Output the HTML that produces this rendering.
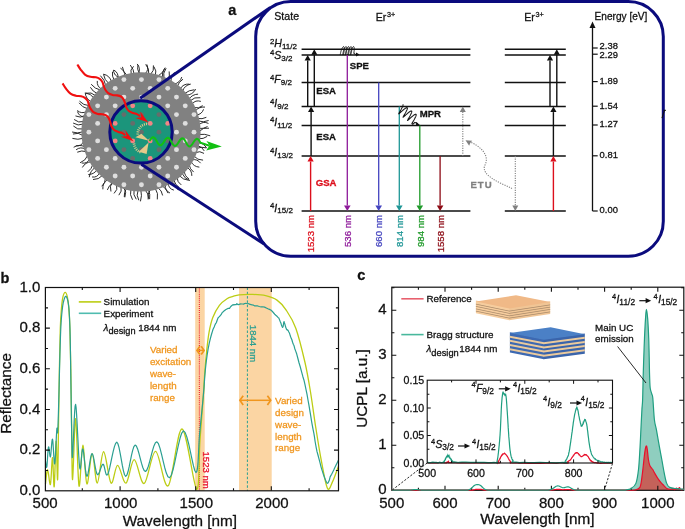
<!DOCTYPE html>
<html><head><meta charset="utf-8"><style>
html,body{margin:0;padding:0;background:#fff;width:685px;height:529px;overflow:hidden}
svg{display:block;will-change:transform;font-family:"Liberation Sans", sans-serif}
</style></head><body>
<svg width="685" height="529" viewBox="0 0 685 529">
<rect width="685" height="529" fill="#fff"/>
<g id="np">
<path d="M199.1,131.49 Q203.07,126.86 209.02,128.19 M199.04,134.47 Q204.8,133.57 210.19,135.8 M198.69,138.75 Q203.35,139.14 207.15,136.42 M198.12,142.52 Q203.92,143.19 206.78,148.27 M197.47,145.57 Q202.15,146.61 204.26,150.91 M196.71,148.39 Q201.32,146.43 206.12,147.87 M195.27,152.66 Q199.87,150.41 204.03,153.4 M193.87,156 Q197.47,160.29 203.07,160.15 M191.98,159.77 Q197.34,158.77 200.58,163.16 M191.03,161.45 Q193.51,166.73 199.34,167.14 M189.09,164.5 Q189.81,169.23 193.67,172.08 M186.96,167.44 Q192.02,170.16 191.83,175.9 M184.38,170.55 Q184.31,175.99 188.94,178.82 M181.95,173.11 Q184.32,178.66 190.02,180.62 M179.24,175.64 Q183.09,179.84 188.76,180.32 M177.04,177.47 Q177.24,182.29 181.28,184.92 M173.79,179.86 Q174.95,184.63 179,187.39 M171.56,181.31 Q176.39,184.62 178.3,190.15 M168.2,183.24 Q168.53,188.73 173.86,190.13 M165.31,184.67 Q164.66,190.51 169.97,193.03 M162.36,185.93 Q166.4,188.6 168.05,193.15 M157.55,187.59 Q162.05,190.24 162.63,195.44 M155.2,188.24 Q158.63,193.37 157.31,199.4 M150.62,189.2 Q147.14,193.77 148.11,199.44 M148.25,189.55 Q150.55,194.12 149.62,199.15 M145.18,189.85 Q148.52,193.65 148.68,198.7 M140.84,190 Q142.28,195.73 140.44,201.34 M138.17,189.93 Q135.8,195.29 138.82,200.31 M134.06,189.58 Q132.78,194.99 136.29,199.29 M130.96,189.13 Q129.31,194.8 132.53,199.76 M126.66,188.2 Q123.74,192.14 124.28,197 M123.62,187.34 Q127.1,191.99 124.85,197.35 M120.92,186.42 Q122.37,191.39 118.84,195.18 M116.57,184.61 Q118.29,189.88 114.02,193.42 M113.35,183 Q108.67,185.03 107.35,189.95 M111.88,182.18 Q109.54,186.64 110.95,191.47 M107.79,179.58 Q102.29,182.91 102.86,189.33 M105.42,177.83 Q105.59,182.91 101.78,186.26 M102.5,175.42 Q98.74,179.73 93.03,179.53 M99.67,172.73 Q97.46,177.76 92.02,177 M97.08,169.93 Q93.8,174.36 88.31,174.6 M95.07,167.48 Q90.08,171.1 89.24,177.21 M92.87,164.44 Q91.6,169.02 87.78,171.83 M91.17,161.78 Q85.25,162.24 82.36,167.44 M89.72,159.21 Q87.04,163.92 81.69,163.04 M87.8,155.26 Q85.6,160.71 80.1,162.76 M86.38,151.69 Q81.71,150.02 77.26,152.19 M85.53,149.18 Q80.6,146.33 76.07,149.8 M84.84,146.79 Q79.11,143.88 73.66,147.28 M83.7,141.51 Q81.32,146.5 75.83,145.79 M83.25,138.26 Q77.86,140.17 72.42,138.4 M83.01,135.47 Q78.38,131.92 72.94,134.04 M82.9,131.83 Q77.51,133.9 72.07,131.99 M82.98,128.91 Q77.3,130.33 73.39,125.98 M83.45,123.95 Q78.05,126.38 73.15,123.06 M83.83,121.54 Q78.37,123.34 74.11,119.47 M84.8,117.15 Q79.19,116.85 77.44,111.5 M85.29,115.42 Q80.53,118.52 75.47,115.94 M86.62,111.45 Q81.6,114.26 77.26,110.5 M87.69,108.79 Q82.24,107.47 79.07,102.84 M89.17,105.65 Q83.33,105.44 79.45,101.08 M91.26,101.87 Q85.79,98.9 85.18,92.71 M93.85,97.96 Q90.75,93.62 85.46,92.96 M95.58,95.66 Q91.34,91.63 85.72,93.24 M97.33,93.57 Q92.7,91.7 90.38,87.27 M100.61,90.14 Q94.81,88.91 91.17,84.24 M101.68,89.13 Q96.71,86.51 97.28,80.92 M105.81,85.67 Q104.72,79.82 100.45,75.68 M108.8,83.54 Q104.37,79.98 103.5,74.36 M111.54,81.82 Q109.78,75.53 103.39,74.16 M114.28,80.31 Q111.78,76.36 112.48,71.75 M117.93,78.58 Q118.88,72.83 113.79,70.01 M119.89,77.77 Q114.06,76.12 113.36,70.09 M124.76,76.12 Q125.02,70.83 120.44,68.17 M127.17,75.47 Q123,72.15 122.41,66.86 M131.22,74.63 Q129.54,69.68 133.57,66.34 M134.11,74.21 Q133.77,68.97 130.27,65.06 M138.23,73.87 Q141.11,68.53 137.15,63.94 M140.55,73.8 Q136.3,70.19 138.16,64.93 M144.99,73.94 Q149.31,69.83 146.83,64.4 M148.78,74.32 Q149.49,68.67 145.69,64.42 M150.45,74.57 Q154.5,70.81 153.42,65.4 M155.34,75.6 Q156.98,70.75 153.9,66.66 M157.76,76.27 Q162.98,73.23 165.19,67.6 M162.61,77.97 Q161.48,72.84 164.6,68.61 M163.96,78.53 Q162.58,72.89 166.11,68.29 M166.98,79.93 Q170.66,76.35 169.16,71.44 M170.85,82.05 Q170.17,76.25 174.5,72.33 M174.06,84.12 Q179.97,82.83 181.79,77.06 M177.23,86.48 Q178.88,81.83 183.03,79.14 M180.11,88.93 Q183.18,83.59 189.32,84.14 M182.5,91.23 Q184.57,85.27 190.77,84.07 M184.62,93.52 Q188.94,90.06 194.46,89.72 M186.07,95.24 Q192.58,94.91 195.71,89.2 M188.89,99.01 Q192.32,94.39 198.07,94.15 M190.11,100.86 Q194.43,96.6 200.39,97.73 M191.97,104.01 Q195.5,99.64 200.85,101.39 M193.73,107.49 Q198.73,109.01 202.73,105.64 M195.23,111.04 Q199.08,106.52 205,107.07 M196.57,114.93 Q201.81,114.32 203.54,109.33 M197.52,118.43 Q202.13,119.49 206.35,117.32 M198.05,120.9 Q203.41,122.79 208.62,120.52 M198.68,124.93 Q203.05,120.74 208.47,123.44 M199,128.51 Q203.61,129.01 207.53,126.53" fill="none" stroke="#222" stroke-width="0.95"/>
<circle cx="141.0" cy="131.9" r="59.6" fill="#818181"/>
<g fill="#dedede"><circle cx="88.88" cy="114.62" r="2.45"/><circle cx="88.88" cy="132.14" r="2.45"/><circle cx="88.88" cy="149.66" r="2.45"/><circle cx="97.64" cy="105.86" r="2.45"/><circle cx="97.64" cy="123.38" r="2.45"/><circle cx="97.64" cy="140.9" r="2.45"/><circle cx="97.64" cy="158.42" r="2.45"/><circle cx="106.4" cy="97.1" r="2.45"/><circle cx="106.4" cy="114.62" r="2.45"/><circle cx="106.4" cy="149.66" r="2.45"/><circle cx="106.4" cy="167.18" r="2.45"/><circle cx="115.16" cy="88.34" r="2.45"/><circle cx="115.16" cy="105.86" r="2.45"/><circle cx="115.16" cy="158.42" r="2.45"/><circle cx="115.16" cy="175.94" r="2.45"/><circle cx="123.92" cy="79.58" r="2.45"/><circle cx="123.92" cy="97.1" r="2.45"/><circle cx="123.92" cy="167.18" r="2.45"/><circle cx="123.92" cy="184.7" r="2.45"/><circle cx="132.68" cy="88.34" r="2.45"/><circle cx="132.68" cy="175.94" r="2.45"/><circle cx="141.44" cy="79.58" r="2.45"/><circle cx="141.44" cy="97.1" r="2.45"/><circle cx="141.44" cy="167.18" r="2.45"/><circle cx="141.44" cy="184.7" r="2.45"/><circle cx="150.2" cy="88.34" r="2.45"/><circle cx="150.2" cy="175.94" r="2.45"/><circle cx="158.96" cy="79.58" r="2.45"/><circle cx="158.96" cy="97.1" r="2.45"/><circle cx="158.96" cy="167.18" r="2.45"/><circle cx="158.96" cy="184.7" r="2.45"/><circle cx="167.72" cy="88.34" r="2.45"/><circle cx="167.72" cy="105.86" r="2.45"/><circle cx="167.72" cy="158.42" r="2.45"/><circle cx="167.72" cy="175.94" r="2.45"/><circle cx="176.48" cy="97.1" r="2.45"/><circle cx="176.48" cy="114.62" r="2.45"/><circle cx="176.48" cy="132.14" r="2.45"/><circle cx="176.48" cy="149.66" r="2.45"/><circle cx="176.48" cy="167.18" r="2.45"/><circle cx="185.24" cy="105.86" r="2.45"/><circle cx="185.24" cy="123.38" r="2.45"/><circle cx="185.24" cy="140.9" r="2.45"/><circle cx="185.24" cy="158.42" r="2.45"/><circle cx="194" cy="114.62" r="2.45"/><circle cx="194" cy="132.14" r="2.45"/><circle cx="194" cy="149.66" r="2.45"/></g>
<circle cx="141.0" cy="131.9" r="31.2" fill="#1b957b"/>
<g fill="#f28585"><circle cx="115.16" cy="123.38" r="2.45"/><circle cx="115.16" cy="140.9" r="2.45"/><circle cx="132.68" cy="105.86" r="2.45"/><circle cx="132.68" cy="140.9" r="2.45"/><circle cx="150.2" cy="105.86" r="2.45"/><circle cx="150.2" cy="123.38" r="2.45"/><circle cx="150.2" cy="140.9" r="2.45"/><circle cx="150.2" cy="158.42" r="2.45"/><circle cx="167.72" cy="123.38" r="2.45"/></g>
<g fill="#666d6b"><circle cx="123.92" cy="114.62" r="2.45"/><circle cx="123.92" cy="132.14" r="2.45"/><circle cx="123.92" cy="149.66" r="2.45"/><circle cx="132.68" cy="123.38" r="2.45"/><circle cx="132.68" cy="158.42" r="2.45"/><circle cx="141.44" cy="114.62" r="2.45"/><circle cx="141.44" cy="132.14" r="2.45"/><circle cx="141.44" cy="149.66" r="2.45"/><circle cx="158.96" cy="114.62" r="2.45"/><circle cx="158.96" cy="132.14" r="2.45"/><circle cx="158.96" cy="149.66" r="2.45"/><circle cx="167.72" cy="140.9" r="2.45"/></g>
<g stroke="#e6c98a" stroke-width="2.6" fill="none" stroke-dasharray="1.0 1.1">
<path d="M147.0,123.9 C142,124.5 137.8,127.5 137.7,134.5"/>
<path d="M134.0,143.5 C134.5,148 137.5,151.5 141.5,152.6"/>
</g>
<g fill="#e6c98a">
<path d="M135.4,137.2 L141.4,133.8 L149.0,140.8 Z"/>
<path d="M138.8,151.8 L146.6,154.0 L148.6,142.6 Z"/>
</g>
<circle cx="141.0" cy="131.9" r="31.2" fill="none" stroke="#0b0b7d" stroke-width="3"/>
<path d="M77.4,64.5C77.97,65.38 79.48,68.08 80.8,69.8C82.12,71.52 83.67,73.63 85.3,74.8C86.93,75.97 88.83,76.38 90.6,76.8C92.37,77.22 94.38,76.95 95.9,77.3C97.42,77.65 98.62,78.13 99.7,78.9C100.78,79.67 101.75,80.77 102.4,81.9C103.05,83.03 103.13,84.43 103.6,85.7C104.07,86.97 104.43,88.25 105.2,89.5C105.97,90.75 106.97,92.28 108.2,93.2C109.43,94.12 111.12,94.63 112.6,95C114.08,95.37 115.72,95.15 117.1,95.4C118.48,95.65 119.88,95.93 120.9,96.5C121.92,97.07 122.53,97.78 123.2,98.8C123.87,99.82 124.37,101.13 124.9,102.6C125.43,104.07 125.67,106.15 126.4,107.6C127.13,109.05 128.18,110.4 129.3,111.3C130.42,112.2 131.83,112.53 133.1,113C134.37,113.47 135.75,113.57 136.9,114.1C138.05,114.63 139.48,115.85 140,116.2" fill="none" stroke="#f01010" stroke-width="2.1"/>
<path d="M148.3,122.4 L135.47,117.88 L141.23,117.17 L140.23,111.45 Z" fill="#f01010"/>
<path d="M62.6,83.4C63.17,84.28 64.68,86.98 66,88.7C67.32,90.42 68.87,92.53 70.5,93.7C72.13,94.87 74.03,95.28 75.8,95.7C77.57,96.12 79.58,95.85 81.1,96.2C82.62,96.55 83.82,97.03 84.9,97.8C85.98,98.57 86.95,99.67 87.6,100.8C88.25,101.93 88.33,103.33 88.8,104.6C89.27,105.87 89.63,107.15 90.4,108.4C91.17,109.65 92.17,111.18 93.4,112.1C94.63,113.02 96.32,113.53 97.8,113.9C99.28,114.27 100.92,114.05 102.3,114.3C103.68,114.55 105.08,114.83 106.1,115.4C107.12,115.97 107.73,116.68 108.4,117.7C109.07,118.72 109.57,120.03 110.1,121.5C110.63,122.97 110.87,125.05 111.6,126.5C112.33,127.95 113.38,129.3 114.5,130.2C115.62,131.1 117.03,131.43 118.3,131.9C119.57,132.37 120.95,132.47 122.1,133C123.25,133.53 124.68,134.75 125.2,135.1" fill="none" stroke="#f01010" stroke-width="2.1"/>
<path d="M133.5,141.3 L120.67,136.78 L126.43,136.07 L125.43,130.35 Z" fill="#f01010"/>
<path d="M149.5,141 L150.18,139.97 L150.85,139.01 L151.52,138.21 L152.18,137.62 L152.83,137.3 L153.47,137.26 L154.1,137.51 L154.72,138.03 L155.33,138.79 L155.93,139.73 L156.53,140.79 L157.13,141.88 L157.73,142.92 L158.33,143.85 L158.94,144.59 L159.56,145.08 L160.19,145.3 L160.83,145.22 L161.49,144.86 L162.15,144.25 L162.82,143.43 L163.49,142.46 L164.17,141.42 L164.84,140.4 L165.52,139.46 L166.18,138.68 L166.84,138.12 L167.49,137.82 L168.13,137.81 L168.76,138.1 L169.38,138.65 L169.99,139.43 L170.59,140.39 L171.19,141.46 L171.79,142.55 L172.39,143.58 L172.99,144.49 L173.6,145.2 L174.22,145.66 L174.85,145.85 L175.5,145.74 L176.15,145.35 L176.81,144.71 L177.48,143.87 L178.16,142.89 L178.83,141.85 L179.51,140.83 L180.18,139.9 L180.85,139.14 L181.51,138.61 L182.16,138.35 L182.79,138.38 L183.42,138.69 L184.04,139.27 L184.65,140.08 L185.25,141.05 L185.85,142.12 L186.44,143.21 L187.04,144.24 L187.65,145.12 L188.26,145.81 L188.88,146.24 L189.52,146.39 L190.16,146.25 L190.81,145.83 L191.48,145.17 L192.15,144.3 L192.82,143.32 L193.5,142.27 L194.18,141.26 L194.85,140.35 L195.52,139.62 L196.17,139.11 L196.82,138.88 L197.46,138.94 L198.08,139.29 L198.7,139.9 L199.3,140.73 L199.91,141.72 L200.5,142.79 L203.5,143.6 L206.5,144.8 L209.5,145.7" fill="none" stroke="#12c012" stroke-width="2"/>
<path d="M221.8,146.5 L206.4,141.0 L209.6,145.6 L206.2,150.4 Z" fill="#12c012"/>
</g>
<g stroke="#0b0b7d" stroke-width="3" fill="none" stroke-linecap="butt">
<path d="M140.2,98.2 L270.35,7.42"/>
<path d="M141.3,164.3 L264.13,243.98"/>
<rect x="255.7" y="1.6" width="407.6" height="254.6" rx="35" ry="35"/>
</g>
<path d="M662.0,118.2 L664.3,110.8 M663.6,110.4 L665.8,110.4" stroke="#111" stroke-width="1.1"/>
<text x="228.2" y="14.6" font-size="14.5" text-anchor="start" font-weight="bold" fill="#111" font-style="normal"  stroke="#111" stroke-width="0.28">a</text>
<text x="274.3" y="20.2" font-size="10.6" text-anchor="start" font-weight="normal" fill="#111" font-style="normal"  stroke="#111" stroke-width="0.28">State</text>
<text x="375.8" y="20.9" font-size="10.6" text-anchor="start" font-weight="normal" fill="#111" font-style="normal"  stroke="#111" stroke-width="0.28">Er<tspan font-size="7.2" dy="-4" dx="0.5">3+</tspan></text>
<text x="524.3" y="20.9" font-size="10.6" text-anchor="start" font-weight="normal" fill="#111" font-style="normal"  stroke="#111" stroke-width="0.28">Er<tspan font-size="7.2" dy="-4" dx="0.5">3+</tspan></text>
<text x="594.6" y="19.8" font-size="10.1" text-anchor="start" font-weight="normal" fill="#111" font-style="normal"  stroke="#111" stroke-width="0.28">Energy [eV]</text>
<g stroke="#111" stroke-width="1.5">
<path d="M301.6,49.2 H470.4 M504.8,49.2 H565.8"/>
<path d="M301.6,54.9 H470.4 M504.8,54.9 H565.8"/>
<path d="M301.6,82.5 H470.4 M504.8,82.5 H565.8"/>
<path d="M301.6,106.6 H470.4 M504.8,106.6 H565.8"/>
<path d="M301.6,125.4 H470.4 M504.8,125.4 H565.8"/>
<path d="M301.6,156.1 H470.4 M504.8,156.1 H565.8"/>
<path d="M301.6,211 H470.4 M504.8,211 H565.8"/>
</g>
<text x="270" y="47.4" font-size="10.5" fill="#111" stroke="#111" stroke-width="0.28"><tspan font-size="7.8" dy="-3.4">2</tspan><tspan font-style="italic" dy="3.4">H</tspan><tspan font-size="8" dy="1.7">11/2</tspan></text>
<text x="270" y="58.8" font-size="10.5" fill="#111" stroke="#111" stroke-width="0.28"><tspan font-size="7.8" dy="-3.4">4</tspan><tspan font-style="italic" dy="3.4">S</tspan><tspan font-size="8" dy="1.7">3/2</tspan></text>
<text x="270" y="83.3" font-size="10.5" fill="#111" stroke="#111" stroke-width="0.28"><tspan font-size="7.8" dy="-3.4">4</tspan><tspan font-style="italic" dy="3.4">F</tspan><tspan font-size="8" dy="1.7">9/2</tspan></text>
<text x="270" y="106.9" font-size="10.5" fill="#111" stroke="#111" stroke-width="0.28"><tspan font-size="7.8" dy="-3.4">4</tspan><tspan font-style="italic" dy="3.4">I</tspan><tspan font-size="8" dy="1.7">9/2</tspan></text>
<text x="270" y="125.8" font-size="10.5" fill="#111" stroke="#111" stroke-width="0.28"><tspan font-size="7.8" dy="-3.4">4</tspan><tspan font-style="italic" dy="3.4">I</tspan><tspan font-size="8" dy="1.7">11/2</tspan></text>
<text x="270" y="156.4" font-size="10.5" fill="#111" stroke="#111" stroke-width="0.28"><tspan font-size="7.8" dy="-3.4">4</tspan><tspan font-style="italic" dy="3.4">I</tspan><tspan font-size="8" dy="1.7">13/2</tspan></text>
<text x="270" y="211.5" font-size="10.5" fill="#111" stroke="#111" stroke-width="0.28"><tspan font-size="7.8" dy="-3.4">4</tspan><tspan font-style="italic" dy="3.4">I</tspan><tspan font-size="8" dy="1.7">15/2</tspan></text>
<path d="M307.7,106.6 V60.4" stroke="#111" stroke-width="1.4"/><path d="M307.7,54.9 L304.6,60.4 L310.8,60.4 Z" fill="#111"/>
<path d="M314.3,106.6 V54.7" stroke="#111" stroke-width="1.4"/><path d="M314.3,49.2 L311.2,54.7 L317.4,54.7 Z" fill="#111"/>
<path d="M311.1,156.1 V112.1" stroke="#111" stroke-width="1.4"/><path d="M311.1,106.6 L308,112.1 L314.2,112.1 Z" fill="#111"/>
<path d="M310.6,211 V161.6" stroke="#dc0f1c" stroke-width="1.4"/><path d="M310.6,156.1 L307.5,161.6 L313.7,161.6 Z" fill="#dc0f1c"/>
<text x="316.3" y="140.2" font-size="9.6" text-anchor="start" font-weight="bold" fill="#111" font-style="normal"  stroke="#111" stroke-width="0.28">ESA</text>
<text x="316.3" y="93.8" font-size="9.6" text-anchor="start" font-weight="bold" fill="#111" font-style="normal"  stroke="#111" stroke-width="0.28">ESA</text>
<text x="315.7" y="185.6" font-size="9.6" text-anchor="start" font-weight="bold" fill="#dc0f1c" font-style="normal"  stroke="#dc0f1c" stroke-width="0.28">GSA</text>
<path d="M347.3,54.9 V205.4" stroke="#8e1a9a" stroke-width="1.3"/><path d="M347.3,211 L344,205.4 L350.6,205.4 Z" fill="#8e1a9a"/>
<text transform="translate(347.6,215) rotate(-90)" font-size="9.6" text-anchor="end" fill="#8e1a9a" dy="3.4" stroke="#8e1a9a" stroke-width="0.28">536 nm</text>
<path d="M378.7,82.5 V205.4" stroke="#4444bf" stroke-width="1.3"/><path d="M378.7,211 L375.4,205.4 L382,205.4 Z" fill="#4444bf"/>
<text transform="translate(379,215) rotate(-90)" font-size="9.6" text-anchor="end" fill="#4444bf" dy="3.4" stroke="#4444bf" stroke-width="0.28">660 nm</text>
<path d="M399.3,106.6 V205.4" stroke="#1e9696" stroke-width="1.3"/><path d="M399.3,211 L396,205.4 L402.6,205.4 Z" fill="#1e9696"/>
<text transform="translate(399.6,215) rotate(-90)" font-size="9.6" text-anchor="end" fill="#1e9696" dy="3.4" stroke="#1e9696" stroke-width="0.28">814 nm</text>
<path d="M419.8,125.4 V205.4" stroke="#1f9a2a" stroke-width="1.3"/><path d="M419.8,211 L416.5,205.4 L423.1,205.4 Z" fill="#1f9a2a"/>
<text transform="translate(420.1,215) rotate(-90)" font-size="9.6" text-anchor="end" fill="#1f9a2a" dy="3.4" stroke="#1f9a2a" stroke-width="0.28">984 nm</text>
<path d="M440.1,156.1 V205.4" stroke="#8c0a14" stroke-width="1.3"/><path d="M440.1,211 L436.8,205.4 L443.4,205.4 Z" fill="#8c0a14"/>
<text transform="translate(440.4,215) rotate(-90)" font-size="9.6" text-anchor="end" fill="#8c0a14" dy="3.4" stroke="#8c0a14" stroke-width="0.28">1558 nm</text>
<text transform="translate(310.9,215) rotate(-90)" font-size="9.6" text-anchor="end" fill="#dc0f1c" dy="3.4" stroke="#dc0f1c" stroke-width="0.28">1523 nm</text>
<text x="349.8" y="68.9" font-size="9.6" text-anchor="start" font-weight="bold" fill="#111" font-style="normal"  stroke="#111" stroke-width="0.28">SPE</text>
<text x="419.7" y="116.5" font-size="9.6" text-anchor="start" font-weight="bold" fill="#111" font-style="normal"  stroke="#111" stroke-width="0.28">MPR</text>
<path d="M340.48,55 L340.44,54.99 L340.41,54.95 L340.39,54.89 L340.37,54.81 L340.36,54.7 L340.35,54.57 L340.35,54.42 L340.36,54.24 L340.38,54.05 L340.41,53.84 L340.44,53.61 L340.48,53.36 L340.52,53.1 L340.58,52.83 L340.64,52.54 L340.7,52.25 L340.78,51.94 L340.86,51.63 L340.95,51.32 L341.04,51 L341.14,50.68 L341.24,50.36 L341.35,50.04 L341.46,49.73 L341.58,49.42 L341.7,49.13 L341.82,48.84 L341.94,48.56 L342.07,48.3 L342.19,48.05 L342.32,47.81 L342.45,47.6 L342.58,47.4 L342.7,47.22 L342.82,47.07 L342.95,46.93 L343.06,46.82 L343.18,46.73 L343.29,46.66 L343.4,46.62 L343.5,46.6 L343.6,46.61 L343.69,46.64 L343.78,46.69 L343.86,46.77 L343.93,46.87 L344,47 L344.06,47.15 L344.11,47.31 L344.15,47.5 L344.19,47.71 L344.22,47.93 L344.25,48.18 L344.26,48.43 L344.27,48.7 L344.27,48.99 L344.27,49.28 L344.26,49.58 L344.24,49.89 L344.21,50.21 L344.18,50.53 L344.14,50.85 L344.1,51.17 L344.06,51.48 L344.01,51.8 L343.95,52.1 L343.89,52.4 L343.83,52.69 L343.77,52.97 L343.71,53.24 L343.64,53.49 L343.57,53.73 L343.51,53.95 L343.44,54.15 L343.38,54.34 L343.31,54.5 L343.25,54.64 L343.19,54.76 L343.14,54.85 L343.08,54.93 L343.04,54.97 L342.99,55 L342.96,55 L342.92,54.97 L342.9,54.92 L342.88,54.85 L342.86,54.75 L342.85,54.63 L342.85,54.49 L342.86,54.33 L342.87,54.14 L342.89,53.94 L342.92,53.72 L342.96,53.48 L343,53.23 L343.05,52.96 L343.11,52.68 L343.17,52.39 L343.24,52.09 L343.32,51.78 L343.41,51.47 L343.5,51.15 L343.59,50.83 L343.69,50.51 L343.8,50.19 L343.91,49.88 L344.02,49.57 L344.14,49.27 L344.26,48.97 L344.38,48.69 L344.51,48.42 L344.63,48.16 L344.76,47.92 L344.89,47.7 L345.02,47.49 L345.14,47.3 L345.27,47.14 L345.39,46.99 L345.51,46.87 L345.63,46.77 L345.74,46.69 L345.85,46.64 L345.95,46.61 L346.05,46.6 L346.15,46.62 L346.24,46.66 L346.32,46.73 L346.4,46.82 L346.47,46.94 L346.53,47.07 L346.59,47.23 L346.63,47.41 L346.68,47.61 L346.71,47.83 L346.74,48.06 L346.76,48.31 L346.77,48.57 L346.77,48.85 L346.77,49.14 L346.76,49.44 L346.75,49.75 L346.72,50.06 L346.7,50.38 L346.66,50.69 L346.62,51.01 L346.58,51.33 L346.53,51.65 L346.48,51.96 L346.42,52.26 L346.36,52.56 L346.3,52.84 L346.24,53.12 L346.17,53.38 L346.11,53.62 L346.04,53.85 L345.97,54.06 L345.91,54.25 L345.84,54.43 L345.78,54.58 L345.72,54.71 L345.66,54.81 L345.61,54.89 L345.56,54.95 L345.51,54.99 L345.47,55 L345.44,54.99 L345.41,54.95 L345.38,54.89 L345.37,54.8 L345.36,54.69 L345.35,54.56 L345.35,54.41 L345.37,54.23 L345.38,54.04 L345.41,53.83 L345.44,53.6 L345.48,53.35 L345.53,53.09 L345.58,52.81 L345.64,52.53 L345.71,52.23 L345.78,51.93 L345.86,51.62 L345.95,51.3 L346.04,50.98 L346.14,50.66 L346.25,50.34 L346.36,50.03 L346.47,49.71 L346.58,49.41 L346.7,49.11 L346.82,48.82 L346.95,48.55 L347.07,48.28 L347.2,48.03 L347.33,47.8 L347.46,47.59 L347.58,47.39 L347.71,47.21 L347.83,47.06 L347.95,46.92 L348.07,46.81 L348.19,46.72 L348.3,46.66 L348.4,46.62 L348.51,46.6 L348.6,46.61 L348.7,46.64 L348.78,46.7 L348.86,46.78 L348.93,46.88 L349,47.01 L349.06,47.15 L349.11,47.32 L349.16,47.51 L349.19,47.72 L349.22,47.95 L349.25,48.19 L349.26,48.45 L349.27,48.72 L349.27,49 L349.27,49.3 L349.25,49.6 L349.24,49.91 L349.21,50.22 L349.18,50.54 L349.14,50.86 L349.1,51.18 L349.05,51.5 L349,51.81 L348.95,52.12 L348.89,52.42 L348.83,52.71 L348.77,52.99 L348.7,53.26 L348.64,53.51 L348.57,53.74 L348.5,53.96 L348.44,54.16 L348.37,54.35 L348.31,54.51 L348.25,54.65 L348.19,54.76 L348.13,54.86 L348.08,54.93 L348.03,54.98 L347.99,55 L347.95,55 L347.92,54.97 L347.89,54.92 L347.87,54.84 L347.86,54.75 L347.85,54.63 L347.85,54.48 L347.86,54.32 L347.87,54.13 L347.89,53.93 L347.92,53.71 L347.96,53.47 L348,53.22 L348.05,52.95 L348.11,52.67 L348.18,52.37 L348.25,52.07 L348.33,51.76 L348.41,51.45 L348.5,51.13 L348.6,50.81 L348.7,50.49 L348.8,50.18 L348.91,49.86 L349.03,49.55 L349.15,49.25 L349.27,48.96 L349.39,48.68 L349.51,48.41 L349.64,48.15 L349.77,47.91 L349.9,47.69 L350.02,47.48 L350.15,47.3 L350.27,47.13 L350.39,46.98 L350.51,46.86 L350.63,46.76 L350.74,46.69 L350.85,46.63 L350.96,46.61 L351.06,46.6 L351.15,46.62 L351.24,46.67 L351.32,46.74 L351.4,46.83 L351.47,46.94 L351.53,47.08 L351.59,47.24 L351.64,47.42 L351.68,47.62 L351.71,47.84 L351.74,48.07 L351.76,48.32 L351.77,48.59 L351.77,48.87 L351.77,49.16 L351.76,49.46 L351.75,49.76 L351.72,50.07 L351.69,50.39 L351.66,50.71 L351.62,51.03 L351.58,51.35 L351.53,51.66 L351.48,51.97 L351.42,52.28 L351.36,52.57 L351.3,52.86 L351.23,53.13 L351.17,53.39 L351.1,53.63 L351.04,53.86 L350.97,54.07 L350.9,54.26 L350.84,54.43 L350.78,54.58 L350.72,54.71 L350.66,54.82 L350.61,54.9 L350.56,54.96 L350.51,54.99 L350.47,55 L350.44,54.99 L350.41,54.95 L350.38,54.88 L350.37,54.8 L350.36,54.69 L350.35,54.55 L350.36,54.4 L350.37,54.22 L350.38,54.03 L350.41,53.82 L350.44,53.58 L350.48,53.34 L350.53,53.08 L350.58,52.8 L350.64,52.51 L350.71,52.22 L350.79,51.91 L350.87,51.6 L350.96,51.28 L351.05,50.96 L351.15,50.64 L351.25,50.33 L351.36,50.01 L351.47,49.7 L351.59,49.39 L351.71,49.1 L351.83,48.81 L351.96,48.53 L352.08,48.27 L352.21,48.02 L352.33,47.79 L352.46,47.58 L352.59,47.38 L352.71,47.21 L352.84,47.05 L352.96,46.92 L353.08,46.81 L353.19,46.72 L353.3,46.66 L353.41,46.62 L353.51,46.6 L353.61,46.61 L353.7,46.64 L353.79,46.7 L353.86,46.78 L353.94,46.89 L354,47.01 L354.06,47.16 L354.11,47.33 L354.16,47.52 L354.2,47.73 L354.23,47.96 L354.25,48.2 L354.26,48.46 L354.27,48.73 L354.27,49.02 L354.27,49.31 L354.25,49.62 L354.23,49.93 L354.21,50.24 L354.18,50.56 L354.14,50.88 L354.1,51.2 L354.05,51.52 L354,51.83 L353.95,52.14 L353.89,52.43 L353.83,52.72 L353.76,53 L353.7,53.27 L354.5,53.2 L355.5,55 L356.5,53.8 L357.2,54.4" fill="none" stroke="#111" stroke-width="0.95" stroke-linejoin="round"/>
<path d="M359.6,54.5 L356.0,52.6 L356.0,56.4 Z" fill="#111"/>
<path d="M402.8,104.42 L402.85,104.48 L402.9,104.54 L402.93,104.61 L402.95,104.7 L402.97,104.8 L402.97,104.91 L402.97,105.03 L402.96,105.15 L402.93,105.3 L402.9,105.45 L402.86,105.6 L402.82,105.77 L402.76,105.95 L402.69,106.14 L402.62,106.33 L402.54,106.53 L402.46,106.74 L402.36,106.95 L402.27,107.17 L402.16,107.4 L402.05,107.63 L401.94,107.86 L401.82,108.1 L401.7,108.34 L401.57,108.58 L401.44,108.82 L401.31,109.07 L401.18,109.31 L401.04,109.55 L400.91,109.8 L400.77,110.04 L400.64,110.27 L400.5,110.51 L400.37,110.74 L400.24,110.97 L400.11,111.19 L399.98,111.4 L399.86,111.62 L399.74,111.82 L399.62,112.02 L399.51,112.2 L399.41,112.38 L399.31,112.56 L399.21,112.72 L399.13,112.87 L399.05,113.02 L398.97,113.15 L398.91,113.27 L398.85,113.39 L398.8,113.49 L398.76,113.58 L398.72,113.66 L398.7,113.72 L398.69,113.78 L398.68,113.82 L398.68,113.85 L398.7,113.87 L398.72,113.88 L398.75,113.88 L398.79,113.86 L398.85,113.84 L398.91,113.8 L398.98,113.75 L399.06,113.69 L399.15,113.62 L399.24,113.54 L399.35,113.45 L399.47,113.35 L399.59,113.24 L399.72,113.12 L399.86,112.99 L400.01,112.86 L400.17,112.71 L400.33,112.56 L400.5,112.41 L400.67,112.25 L400.85,112.08 L401.04,111.91 L401.23,111.73 L401.42,111.55 L401.62,111.37 L401.83,111.19 L402.03,111 L402.24,110.82 L402.45,110.63 L402.66,110.45 L402.87,110.26 L403.09,110.08 L403.3,109.9 L403.51,109.72 L403.72,109.55 L403.93,109.38 L404.14,109.21 L404.34,109.05 L404.54,108.9 L404.74,108.75 L404.93,108.61 L405.12,108.48 L405.3,108.36 L405.48,108.24 L405.65,108.14 L405.82,108.04 L405.97,107.95 L406.13,107.87 L406.27,107.81 L406.41,107.75 L406.53,107.71 L406.65,107.67 L406.76,107.65 L406.87,107.64 L406.96,107.64 L407.04,107.65 L407.12,107.68 L407.18,107.71 L407.24,107.76 L407.28,107.82 L407.32,107.89 L407.35,107.97 L407.37,108.07 L407.37,108.17 L407.37,108.29 L407.36,108.42 L407.34,108.55 L407.31,108.7 L407.28,108.86 L407.23,109.02 L407.18,109.2 L407.11,109.38 L407.04,109.57 L406.97,109.77 L406.88,109.98 L406.79,110.19 L406.7,110.41 L406.59,110.63 L406.48,110.86 L406.37,111.1 L406.25,111.33 L406.13,111.57 L406.01,111.81 L405.88,112.05 L405.75,112.3 L405.61,112.54 L405.48,112.78 L405.35,113.03 L405.21,113.27 L405.07,113.51 L404.94,113.74 L404.81,113.97 L404.67,114.2 L404.54,114.43 L404.42,114.64 L404.29,114.86 L404.17,115.06 L404.05,115.26 L403.94,115.45 L403.84,115.63 L403.73,115.81 L403.64,115.97 L403.55,116.13 L403.47,116.28 L403.39,116.41 L403.32,116.54 L403.26,116.65 L403.21,116.76 L403.17,116.85 L403.13,116.93 L403.11,117 L403.09,117.06 L403.08,117.11 L403.08,117.15 L403.09,117.17 L403.11,117.18 L403.14,117.18 L403.18,117.17 L403.23,117.14 L403.29,117.11 L403.36,117.06 L403.43,117.01 L403.52,116.94 L403.61,116.86 L403.72,116.77 L403.83,116.68 L403.95,116.57 L404.08,116.45 L404.22,116.33 L404.37,116.19 L404.52,116.05 L404.68,115.91 L404.85,115.75 L405.02,115.59 L405.2,115.43 L405.38,115.26 L405.57,115.08 L405.77,114.91 L405.97,114.73 L406.17,114.54 L406.37,114.36 L406.58,114.17 L406.79,113.99 L407,113.8 L407.21,113.62 L407.42,113.43 L407.64,113.25 L407.85,113.07 L408.06,112.9 L408.27,112.73 L408.48,112.56 L408.68,112.4 L408.88,112.24 L409.08,112.1 L409.28,111.95 L409.47,111.82 L409.65,111.69 L409.83,111.57 L410,111.47 L410.17,111.37 L410.33,111.28 L410.48,111.2 L410.63,111.13 L410.77,111.07 L410.9,111.02 L411.02,110.98 L411.13,110.96 L411.24,110.94 L411.33,110.94 L411.42,110.95 L411.5,110.97 L411.57,111 L411.62,111.05 L411.67,111.1 L411.71,111.17 L411.74,111.25 L411.76,111.34 L411.77,111.44 L411.77,111.56 L411.77,111.68 L411.75,111.81 L411.72,111.96 L411.69,112.11 L411.64,112.28 L411.59,112.45 L411.53,112.63 L411.46,112.82 L411.39,113.02 L411.31,113.22 L411.22,113.43 L411.12,113.65 L411.02,113.87 L410.92,114.1 L410.8,114.33 L410.69,114.56 L410.57,114.8 L410.44,115.04 L410.32,115.28 L410.19,115.53 L410.05,115.77 L409.92,116.02 L409.78,116.26 L409.65,116.5 L409.51,116.74 L409.38,116.98 L409.24,117.21 L409.11,117.44 L408.98,117.66 L408.85,117.88 L408.73,118.1 L408.6,118.3 L408.49,118.5 L408.37,118.7 L408.27,118.88 L408.16,119.06 L408.07,119.23 L407.97,119.39 L407.89,119.54 L407.81,119.68 L407.74,119.8 L407.68,119.92 L407.63,120.03 L407.58,120.13 L407.54,120.21 L407.51,120.29 L407.49,120.35 L407.48,120.4 L407.48,120.44 L407.49,120.46 L407.51,120.48 L407.53,120.48 L407.57,120.47 L407.61,120.45 L407.67,120.42 L407.74,120.38 L407.81,120.32 L407.89,120.26 L407.99,120.18 L408.09,120.1 L408.2,120 L408.32,119.9 L408.45,119.79 L408.58,119.66 L408.73,119.53 L408.88,119.39 L409.03,119.25 L409.2,119.1 L409.37,118.94 L409.55,118.78 L409.73,118.61 L409.92,118.43 L410.11,118.26 L410.31,118.08 L410.51,117.89 L410.71,117.71 L410.92,117.53 L411.13,117.34 L411.34,117.15 L411.55,116.97 L411.76,116.78 L411.98,116.6 L412.19,116.42 L412.4,116.25 L412.61,116.07 L412.82,115.91 L413.02,115.74 L413.23,115.59 L413.43,115.44 L413.62,115.29 L413.81,115.16 L414,115.03 L414.18,114.91 L414.35,114.8 L414.52,114.69 L414.69,114.6 L414.84,114.52 L414.99,114.44 L415.13,114.38 L415.26,114.33 L415.39,114.29 L415.5,114.26 L415.61,114.24 L415.71,114.24 L415.8,114.24 L415.88,114.26 L415.95,114.29 L416.01,114.33 L416.06,114.38 L416.1,114.45 L416.13,114.53 L416.16,114.61 L416.17,114.71 L416.17,114.82 L416.17,114.94 L416.15,115.07 L416.13,115.22 L416.1,115.37 L416.06,115.53 L416.01,115.7 L415.95,115.88 L415.88,116.06 L415.81,116.26 L415.73,116.46 L415.64,116.67 L415.55,116.89 L415.45,117.11 L415.35,117.33 L415.24,117.56 L415.12,117.8 L415,118.03 L414.88,118.27 L414.75,118.51 L414.62,118.76 L414.49,119 L414.36,119.25 L414.22,119.49 L414.09,119.73 L413.95,119.97 L413.82,120.21 L413.68,120.44 L413.55,120.67 L413.42,120.9 L413.29,121.12 L413.16,121.34 L413.04,121.54 L412.92,121.75 L412.81,121.94 L412.7,122.13 L412.59,122.31 L412.49,122.48 L412.4,122.64 L412.31,122.79 L412.23,122.94 L412.16,123.07 L412.1,123.19 L412.04,123.3 L411.99,123.4 L411.95,123.49 L411.92,123.57 L411.9,123.63 L411.88,123.68 L411.88,123.73 L411.89,123.76 L411.9,123.78 L412.8,124.3 L414.8,122.4 L416.8,123 L417.8,124.2" fill="none" stroke="#111" stroke-width="1.05" stroke-linejoin="round"/>
<path d="M420.2,125.2 L416.2,121.9 L416.0,125.8 Z" fill="#111"/>
<path d="M462.8,156.1 V112.1" stroke="#808080" stroke-width="1.1" stroke-dasharray="1.2 1.2"/><path d="M462.8,106.6 L459.8,112.1 L465.8,112.1 Z" fill="#808080"/>
<path d="M515.3,156.1 V205.5" stroke="#808080" stroke-width="1.1" stroke-dasharray="1.2 1.2"/><path d="M515.3,211 L512.3,205.5 L518.3,205.5 Z" fill="#808080"/>
<path d="M512,188.5 C 500,183 480,175 485,165 C 490,155 480,146 470,142" fill="none" stroke="#808080" stroke-width="1.1" stroke-dasharray="1.2 1.2"/>
<path d="M465.5,140.2 L472.19,140.64 L470.25,142.98 L469.17,145.82 Z" fill="#808080"/>
<text x="470.4" y="188.3" font-size="9.6" text-anchor="start" font-weight="bold" fill="#808080" font-style="normal" letter-spacing="1" stroke="#808080" stroke-width="0.28">ETU</text>
<path d="M550,106.6 V60.4" stroke="#111" stroke-width="1.4"/><path d="M550,54.9 L546.9,60.4 L553.1,60.4 Z" fill="#111"/>
<path d="M556.8,106.6 V54.7" stroke="#111" stroke-width="1.4"/><path d="M556.8,49.2 L553.7,54.7 L559.9,54.7 Z" fill="#111"/>
<path d="M553.4,156.1 V112.1" stroke="#111" stroke-width="1.4"/><path d="M553.4,106.6 L550.3,112.1 L556.5,112.1 Z" fill="#111"/>
<path d="M553.4,211 V161.6" stroke="#dc0f1c" stroke-width="1.4"/><path d="M553.4,156.1 L550.3,161.6 L556.5,161.6 Z" fill="#dc0f1c"/>
<path d="M592.5,211 V27" stroke="#111" stroke-width="1.3"/>
<path d="M592.5,21.5 L589.5,28 L595.5,28 Z" fill="#111"/>
<path d="M592.5,48 H597.7" stroke="#111" stroke-width="1.2"/>
<text x="599.6" y="49.3" font-size="9.4" text-anchor="start" font-weight="normal" fill="#111" font-style="normal"  stroke="#111" stroke-width="0.28">2.38</text>
<path d="M592.5,54.2 H597.7" stroke="#111" stroke-width="1.2"/>
<text x="599.6" y="57.7" font-size="9.4" text-anchor="start" font-weight="normal" fill="#111" font-style="normal"  stroke="#111" stroke-width="0.28">2.29</text>
<path d="M592.5,81.6 H597.7" stroke="#111" stroke-width="1.2"/>
<text x="599.6" y="83.9" font-size="9.4" text-anchor="start" font-weight="normal" fill="#111" font-style="normal"  stroke="#111" stroke-width="0.28">1.89</text>
<path d="M592.5,106.2 H597.7" stroke="#111" stroke-width="1.2"/>
<text x="599.6" y="108.5" font-size="9.4" text-anchor="start" font-weight="normal" fill="#111" font-style="normal"  stroke="#111" stroke-width="0.28">1.54</text>
<path d="M592.5,125 H597.7" stroke="#111" stroke-width="1.2"/>
<text x="599.6" y="127.3" font-size="9.4" text-anchor="start" font-weight="normal" fill="#111" font-style="normal"  stroke="#111" stroke-width="0.28">1.27</text>
<path d="M592.5,155.8 H597.7" stroke="#111" stroke-width="1.2"/>
<text x="599.6" y="158.1" font-size="9.4" text-anchor="start" font-weight="normal" fill="#111" font-style="normal"  stroke="#111" stroke-width="0.28">0.81</text>
<path d="M592.5,211 H597.7" stroke="#111" stroke-width="1.2"/>
<text x="599.6" y="213.3" font-size="9.4" text-anchor="start" font-weight="normal" fill="#111" font-style="normal"  stroke="#111" stroke-width="0.28">0.00</text>
<text x="0.5" y="282.9" font-size="14.5" text-anchor="start" font-weight="bold" fill="#111" font-style="normal"  stroke="#111" stroke-width="0.28">b</text>
<rect x="195.2" y="287.5" width="9.5" height="203.3" fill="#fbd5a3"/>
<rect x="239.0" y="287.5" width="32.7" height="203.3" fill="#fbd5a3"/>
<path d="M199.4,287.5 V490.8" stroke="#ee2a3c" stroke-width="1.2" stroke-dasharray="1.0 1.05"/>
<path d="M247.4,287.5 V490.8" stroke="#2a9f91" stroke-width="1" stroke-dasharray="2.5 1.8"/>
<path d="M45.5,483.89C45.85,481.52 46.78,469.56 47.6,469.66C48.42,469.76 49.58,486.5 50.4,484.5C51.22,482.5 51.87,457.29 52.5,457.66C53.13,458.03 53.6,489.48 54.2,486.73C54.8,483.99 55.53,442.38 56.1,441.19C56.67,440.01 57.18,483.21 57.6,479.62C58.02,476.03 58.3,438.11 58.6,419.64C58.9,401.18 59.12,384.07 59.4,368.82C59.68,353.57 59.95,338.32 60.3,328.16C60.65,317.99 61.05,313.08 61.5,307.83C61.95,302.58 62.38,299.22 63,296.65C63.62,294.07 64.48,292.38 65.2,292.38C65.92,292.38 66.7,294.07 67.3,296.65C67.9,299.22 68.37,302.58 68.8,307.83C69.23,313.08 69.57,317.99 69.9,328.16C70.23,338.32 70.52,352.89 70.8,368.82C71.08,384.75 71.3,405.24 71.6,423.71C71.9,442.18 71.93,480.47 72.6,479.62C73.27,478.77 74.53,417.58 75.6,418.63C76.67,419.68 77.8,481.48 79,485.92C80.2,490.36 81.48,445.6 82.8,445.26C84.12,444.92 85.33,482.5 86.9,483.89C88.47,485.28 90.47,453.73 92.2,453.6C93.93,453.46 95.4,483.38 97.3,483.07C99.2,482.77 101.32,451.77 103.6,451.77C105.88,451.77 108.67,480.8 111,483.07C113.33,485.34 115.1,465.39 117.6,465.39C120.1,465.39 123.23,484.02 126,483.07C128.77,482.13 131.17,459.63 134.2,459.7C137.23,459.76 140.63,484.87 144.2,483.48C147.77,482.09 151.6,450.99 155.6,451.36C159.6,451.73 163.8,489.44 168.2,485.72C172.6,481.99 177.27,428.42 182,429C186.73,429.57 193.6,487.34 196.6,489.17C199.6,491 198.87,455.7 200,439.98C201.13,424.25 202.58,406.43 203.4,394.84C204.22,383.25 204.37,377.66 204.9,370.45C205.43,363.23 205.92,357.84 206.6,351.54C207.28,345.24 207.97,338.29 209,332.63C210.03,326.97 211.07,322.13 212.8,317.59C214.53,313.05 217.03,308.54 219.4,305.39C221.77,302.24 224.73,300.17 227,298.68C229.27,297.19 230.98,297.09 233,296.45C235.02,295.8 235.87,295.16 239.1,294.82C242.33,294.48 247.98,294.28 252.4,294.41C256.82,294.55 261.5,294.68 265.6,295.63C269.7,296.58 273.6,297.73 277,300.1C280.4,302.48 282.87,305.19 286,309.86C289.13,314.54 292.63,319.38 295.8,328.16C298.97,336.94 302.55,351.88 305,362.52C307.45,373.16 308.67,380.92 310.5,392C312.33,403.08 314.15,417.31 316,429C317.85,440.69 319.68,452.24 321.6,462.13C323.52,472.03 325.67,485.11 327.5,488.36C329.33,491.61 330.78,485.31 332.6,481.65C334.42,477.99 337.43,468.95 338.4,466.4" fill="none" stroke="#bccd14" stroke-width="1.3"/>
<path d="M45.5,461.12 L45.6,461.73 L45.72,462.74 L45.87,463.96 L46.04,465.21 L46.23,466.3 L46.42,467.06 L46.61,467.29 L46.8,466.81 L46.99,465.34 L47.19,462.93 L47.4,459.9 L47.61,456.58 L47.83,453.3 L48.05,450.37 L48.28,448.12 L48.5,446.89 L48.73,446.89 L48.96,447.92 L49.19,449.65 L49.42,451.73 L49.66,453.83 L49.91,455.6 L50.15,456.72 L50.4,456.85 L50.65,455.67 L50.91,453.38 L51.17,450.37 L51.43,447.08 L51.7,443.9 L51.96,441.24 L52.23,439.53 L52.5,439.16 L52.77,440.64 L53.05,443.77 L53.32,447.97 L53.6,452.63 L53.88,457.16 L54.15,460.96 L54.43,463.42 L54.7,463.96 L54.98,462.21 L55.26,458.58 L55.55,453.65 L55.83,447.97 L56.1,442.11 L56.36,436.66 L56.6,432.16 L56.8,429.2 L56.97,427.98 L57.1,428.05 L57.22,429 L57.31,430.38 L57.4,431.78 L57.49,432.78 L57.59,432.94 L57.7,431.84 L57.83,429.52 L57.96,426.37 L58.1,422.58 L58.24,418.29 L58.39,413.65 L58.53,408.84 L58.67,404.01 L58.8,399.31 L58.93,394.55 L59.06,389.48 L59.18,384.22 L59.31,378.86 L59.43,373.52 L59.55,368.3 L59.68,363.31 L59.8,358.65 L59.92,354.26 L60.05,349.98 L60.17,345.85 L60.29,341.88 L60.41,338.11 L60.54,334.54 L60.67,331.22 L60.8,328.16 L60.94,325.4 L61.08,322.95 L61.22,320.75 L61.37,318.76 L61.52,316.92 L61.67,315.2 L61.83,313.54 L62,311.9 L62.17,310.3 L62.34,308.82 L62.51,307.43 L62.68,306.14 L62.87,304.93 L63.06,303.8 L63.27,302.74 L63.5,301.73 L63.75,300.75 L64.02,299.77 L64.31,298.85 L64.61,298.01 L64.91,297.29 L65.21,296.73 L65.51,296.37 L65.8,296.24 L66.09,296.36 L66.38,296.69 L66.67,297.2 L66.96,297.88 L67.25,298.7 L67.52,299.63 L67.77,300.65 L68,301.73 L68.21,302.85 L68.4,304.02 L68.57,305.28 L68.73,306.65 L68.88,308.17 L69.02,309.86 L69.16,311.77 L69.3,313.93 L69.43,316.21 L69.56,318.55 L69.67,321.02 L69.78,323.71 L69.89,326.7 L69.99,330.08 L70.1,333.93 L70.2,338.32 L70.3,343.41 L70.41,349.17 L70.51,355.45 L70.61,362.09 L70.7,368.93 L70.8,375.82 L70.9,382.62 L71,389.15 L71.1,395.74 L71.2,402.67 L71.3,409.74 L71.4,416.74 L71.5,423.46 L71.6,429.71 L71.7,435.29 L71.8,439.98 L71.88,444.11 L71.95,448.02 L72,451.52 L72.06,454.41 L72.14,456.5 L72.25,457.6 L72.39,457.51 L72.6,456.04 L72.86,452.03 L73.17,445.19 L73.52,436.57 L73.89,427.26 L74.3,418.31 L74.72,410.8 L75.16,405.81 L75.6,404.4 L76.07,407.38 L76.57,414.09 L77.1,423.37 L77.64,434.07 L78.19,445.01 L78.72,455.06 L79.23,463.05 L79.7,467.83 L80.13,469.09 L80.52,467.8 L80.89,464.73 L81.25,460.62 L81.61,456.23 L81.98,452.32 L82.37,449.63 L82.8,448.92 L83.26,450.48 L83.73,453.7 L84.22,458.02 L84.72,462.88 L85.25,467.71 L85.78,471.95 L86.33,475.02 L86.9,476.37 L87.49,475.62 L88.1,473.18 L88.73,469.58 L89.38,465.39 L90.03,461.14 L90.69,457.39 L91.35,454.69 L92,453.6 L92.65,454.34 L93.3,456.49 L93.96,459.62 L94.61,463.29 L95.27,467.06 L95.94,470.48 L96.62,473.12 L97.3,474.54 L98,474.6 L98.72,473.66 L99.45,472.03 L100.19,470.01 L100.92,467.91 L101.64,466.04 L102.33,464.69 L103,464.17 L103.61,464.76 L104.14,466.3 L104.64,468.41 L105.14,470.72 L105.66,472.86 L106.24,474.46 L106.91,475.14 L107.7,474.54 L108.63,472.08 L109.67,467.9 L110.8,462.62 L111.99,456.89 L113.21,451.34 L114.44,446.62 L115.64,443.36 L116.8,442.21 L117.92,443.75 L119.03,447.61 L120.13,453.03 L121.23,459.22 L122.33,465.43 L123.44,470.87 L124.56,474.77 L125.7,476.37 L126.84,475.19 L127.99,471.79 L129.14,466.88 L130.31,461.19 L131.48,455.45 L132.67,450.36 L133.87,446.66 L135.1,445.06 L136.35,445.98 L137.61,448.92 L138.88,453.21 L140.17,458.17 L141.48,463.15 L142.81,467.47 L144.15,470.47 L145.5,471.49 L146.87,470.01 L148.25,466.47 L149.64,461.58 L151.06,456.05 L152.49,450.59 L153.94,445.92 L155.41,442.76 L156.9,441.8 L158.42,443.73 L159.96,448.13 L161.52,454.13 L163.1,460.88 L164.7,467.48 L166.32,473.09 L167.95,476.81 L169.6,477.79 L171.28,475.28 L173,469.8 L174.75,462.36 L176.51,453.95 L178.27,445.59 L180.02,438.28 L181.73,433.02 L183.4,430.83 L185.08,432.34 L186.82,436.9 L188.57,443.49 L190.28,451.14 L191.91,458.86 L193.42,465.65 L194.77,470.53 L195.9,472.5 L196.78,471.52 L197.44,468.5 L197.93,463.92 L198.29,458.23 L198.59,451.92 L198.87,445.44 L199.19,439.27 L199.6,433.88 L200.08,428.92 L200.59,423.8 L201.1,418.62 L201.61,413.47 L202.11,408.43 L202.58,403.58 L203.02,399.02 L203.4,394.84 L203.72,391.05 L204,387.59 L204.23,384.38 L204.44,381.39 L204.63,378.55 L204.83,375.82 L205.05,373.13 L205.3,370.45 L205.57,367.79 L205.85,365.24 L206.13,362.78 L206.42,360.41 L206.72,358.11 L207.03,355.87 L207.36,353.68 L207.7,351.54 L208.05,349.46 L208.41,347.46 L208.78,345.53 L209.16,343.66 L209.55,341.83 L209.98,340.04 L210.42,338.26 L210.9,336.5 L211.4,334.74 L211.9,333.02 L212.43,331.36 L212.97,329.52 L213.56,328.25 L214.19,326.96 L214.86,325.14 L215.6,323.54 L216.4,322.53 L217.24,320.05 L218.14,317.7 L219.08,316.91 L220.06,315.81 L221.08,314.69 L222.12,312.66 L223.2,311.74 L224.35,310.66 L225.58,309.66 L226.88,308.95 L228.19,308.4 L229.5,308.33 L230.76,306.49 L231.94,305.49 L233,304.65 L233.93,305.06 L234.75,304.52 L235.49,304.54 L236.19,304.63 L236.87,303.72 L237.56,304.39 L238.29,304.68 L239.1,304.34 L239.97,304.07 L240.85,303.9 L241.76,304.01 L242.69,303.98 L243.64,304.11 L244.63,303.52 L245.65,303.29 L246.7,303.52 L247.77,303.75 L248.85,303.65 L249.96,304.39 L251.1,304.58 L252.28,304.96 L253.52,305.21 L254.82,305.92 L256.2,305.79 L257.7,305.95 L259.33,306.52 L261.05,306.96 L262.81,306.74 L264.57,307.16 L266.28,308.02 L267.91,308.8 L269.4,309.41 L270.8,310.01 L272.15,311.17 L273.45,312.75 L274.69,314.24 L275.85,315.29 L276.93,316.21 L277.92,317.39 L278.8,318.04 L279.56,319.86 L280.2,321.5 L280.74,322.67 L281.2,324.04 L281.6,325.6 L281.95,326.28 L282.28,326.85 L282.6,327.42 L282.89,326.95 L283.1,326.57 L283.27,325.38 L283.41,324.79 L283.54,323.5 L283.66,322.75 L283.81,322.25 L284,321.59 L284.21,321.86 L284.41,322.68 L284.62,323.38 L284.84,324.08 L285.08,324.95 L285.35,325.92 L285.65,327.04 L286,327.9 L286.39,329.11 L286.82,329.73 L287.27,330.06 L287.76,329.94 L288.28,330.85 L288.83,331.99 L289.4,332.94 L290,334.83 L290.62,336.72 L291.24,338.38 L291.89,339.74 L292.58,342.27 L293.3,344.31 L294.07,345.81 L294.9,349.01 L295.8,351.35 L296.8,354.31 L297.9,358.52 L299.08,362.99 L300.3,367.02 L301.53,371.58 L302.75,376.21 L303.91,379.96 L305,384.71 L306.02,389.72 L307.02,394.38 L307.99,400 L308.93,405.18 L309.84,410.67 L310.73,415.85 L311.58,421.34 L312.4,425.78 L313.16,429.77 L313.84,433.11 L314.47,436.8 L315.07,441.24 L315.69,444.75 L316.35,448.4 L317.08,451.95 L317.9,454.75 L318.86,458.42 L319.93,462.47 L321.09,467.11 L322.27,470.83 L323.45,474.55 L324.58,477.81 L325.61,480.32 L326.5,482.27 L327.22,483.29 L327.8,483.11 L328.28,482.39 L328.71,481.54 L329.13,480.79 L329.59,479.06 L330.13,476.89 L330.8,475.61 L331.64,474.33 L332.65,472.34 L333.74,470.1 L334.87,467.55 L335.96,465.26 L336.96,463.24 L337.79,461.54 L338.4,460.31" fill="none" stroke="#2a9f91" stroke-width="1.2" stroke-linejoin="round"/>
<path d="M197.5,350.4 H203.6" stroke="#f0961e" stroke-width="1.5"/><path d="M199.9,346.2 L197,350.4 L199.9,354.6" stroke="#f0961e" stroke-width="1.7" fill="none" stroke-linejoin="miter"/><path d="M201.2,346.2 L204.1,350.4 L201.2,354.6" stroke="#f0961e" stroke-width="1.7" fill="none" stroke-linejoin="miter"/>
<path d="M240.4,400.3 H270.2" stroke="#f0961e" stroke-width="1.5"/><path d="M243.2,395.7 L239.9,400.3 L243.2,404.9" stroke="#f0961e" stroke-width="1.7" fill="none" stroke-linejoin="miter"/><path d="M267.4,395.7 L270.7,400.3 L267.4,404.9" stroke="#f0961e" stroke-width="1.7" fill="none" stroke-linejoin="miter"/>
<path d="M82.3,490.8 v-2.6 M82.3,287.5 v2.6 M120.1,490.8 v-4.5 M120.1,287.5 v4.5 M157.9,490.8 v-2.6 M157.9,287.5 v2.6 M195.7,490.8 v-4.5 M195.7,287.5 v4.5 M233.5,490.8 v-2.6 M233.5,287.5 v2.6 M271.3,490.8 v-4.5 M271.3,287.5 v4.5 M309.1,490.8 v-2.6 M309.1,287.5 v2.6 M45.4,470.47 h2.6 M338.5,470.47 h-2.6 M45.4,450.14 h4.5 M338.5,450.14 h-4.5 M45.4,429.81 h2.6 M338.5,429.81 h-2.6 M45.4,409.48 h4.5 M338.5,409.48 h-4.5 M45.4,389.15 h2.6 M338.5,389.15 h-2.6 M45.4,368.82 h4.5 M338.5,368.82 h-4.5 M45.4,348.49 h2.6 M338.5,348.49 h-2.6 M45.4,328.16 h4.5 M338.5,328.16 h-4.5 M45.4,307.83 h2.6 M338.5,307.83 h-2.6" stroke="#111" stroke-width="1.1" fill="none"/>
<rect x="45.4" y="287.5" width="293.1" height="203.3" fill="none" stroke="#111" stroke-width="1.2"/>
<text x="40.4" y="494.9" font-size="15" text-anchor="end" font-weight="normal" fill="#111" font-style="normal"  stroke="#111" stroke-width="0.28">0.0</text>
<text x="40.4" y="454.24" font-size="15" text-anchor="end" font-weight="normal" fill="#111" font-style="normal"  stroke="#111" stroke-width="0.28">0.2</text>
<text x="40.4" y="413.58" font-size="15" text-anchor="end" font-weight="normal" fill="#111" font-style="normal"  stroke="#111" stroke-width="0.28">0.4</text>
<text x="40.4" y="372.92" font-size="15" text-anchor="end" font-weight="normal" fill="#111" font-style="normal"  stroke="#111" stroke-width="0.28">0.6</text>
<text x="40.4" y="332.26" font-size="15" text-anchor="end" font-weight="normal" fill="#111" font-style="normal"  stroke="#111" stroke-width="0.28">0.8</text>
<text x="40.4" y="291.6" font-size="15" text-anchor="end" font-weight="normal" fill="#111" font-style="normal"  stroke="#111" stroke-width="0.28">1.0</text>
<text x="45.1" y="508.3" font-size="15" text-anchor="middle" font-weight="normal" fill="#111" font-style="normal"  stroke="#111" stroke-width="0.28">500</text>
<text x="120.7" y="508.3" font-size="15" text-anchor="middle" font-weight="normal" fill="#111" font-style="normal"  stroke="#111" stroke-width="0.28">1000</text>
<text x="196.3" y="508.3" font-size="15" text-anchor="middle" font-weight="normal" fill="#111" font-style="normal"  stroke="#111" stroke-width="0.28">1500</text>
<text x="271.9" y="508.3" font-size="15" text-anchor="middle" font-weight="normal" fill="#111" font-style="normal"  stroke="#111" stroke-width="0.28">2000</text>
<text x="179.8" y="525.6" font-size="15.3" text-anchor="middle" font-weight="normal" fill="#111" font-style="normal"  stroke="#111" stroke-width="0.28">Wavelength [nm]</text>
<text transform="translate(11.4,393.4) rotate(-90)" font-size="15.3" text-anchor="middle" fill="#111" stroke="#111" stroke-width="0.28">Reflectance</text>
<path d="M78.8,301.9 H101.2" stroke="#bccd14" stroke-width="1.6"/>
<path d="M78.8,313.3 H101.2" stroke="#50bcb0" stroke-width="1.6"/>
<text x="103.6" y="304.9" font-size="9.8" text-anchor="start" font-weight="normal" fill="#111" font-style="normal"  stroke="#111" stroke-width="0.28">Simulation</text>
<text x="103.6" y="317.1" font-size="9.8" text-anchor="start" font-weight="normal" fill="#111" font-style="normal"  stroke="#111" stroke-width="0.28">Experiment</text>
<text x="103.6" y="330.6" font-size="9.8" text-anchor="start" font-weight="normal" fill="#111" font-style="normal"  stroke="#111" stroke-width="0.28"><tspan font-style="italic">λ</tspan><tspan font-size="9.2" dy="3.6">design</tspan><tspan dy="-3.6"> 1844 nm</tspan></text>
<text x="149.9" y="353.2" font-size="9.8" text-anchor="start" font-weight="normal" fill="#f0961e" font-style="normal"  stroke="#f0961e" stroke-width="0.28">Varied</text>
<text x="149.9" y="365.2" font-size="9.8" text-anchor="start" font-weight="normal" fill="#f0961e" font-style="normal"  stroke="#f0961e" stroke-width="0.28">excitation</text>
<text x="149.9" y="377.2" font-size="9.8" text-anchor="start" font-weight="normal" fill="#f0961e" font-style="normal"  stroke="#f0961e" stroke-width="0.28">wave-</text>
<text x="149.9" y="389.2" font-size="9.8" text-anchor="start" font-weight="normal" fill="#f0961e" font-style="normal"  stroke="#f0961e" stroke-width="0.28">length</text>
<text x="149.9" y="401.2" font-size="9.8" text-anchor="start" font-weight="normal" fill="#f0961e" font-style="normal"  stroke="#f0961e" stroke-width="0.28">range</text>
<text x="275.1" y="404.1" font-size="9.8" text-anchor="start" font-weight="normal" fill="#f0961e" font-style="normal"  stroke="#f0961e" stroke-width="0.28">Varied</text>
<text x="275.1" y="415.9" font-size="9.8" text-anchor="start" font-weight="normal" fill="#f0961e" font-style="normal"  stroke="#f0961e" stroke-width="0.28">design</text>
<text x="275.1" y="427.7" font-size="9.8" text-anchor="start" font-weight="normal" fill="#f0961e" font-style="normal"  stroke="#f0961e" stroke-width="0.28">wave-</text>
<text x="275.1" y="439.5" font-size="9.8" text-anchor="start" font-weight="normal" fill="#f0961e" font-style="normal"  stroke="#f0961e" stroke-width="0.28">length</text>
<text x="275.1" y="451.3" font-size="9.8" text-anchor="start" font-weight="normal" fill="#f0961e" font-style="normal"  stroke="#f0961e" stroke-width="0.28">range</text>
<text transform="translate(203.2,451.5) rotate(90)" font-size="9.6" fill="#e8102c" stroke="#e8102c" stroke-width="0.28">1523 nm</text>
<text transform="translate(249.6,324.8) rotate(90)" font-size="9.6" fill="#2a9f91" stroke="#2a9f91" stroke-width="0.28">1844 nm</text>
<text x="357.2" y="279.9" font-size="14.5" text-anchor="start" font-weight="bold" fill="#111" font-style="normal"  stroke="#111" stroke-width="0.28">c</text>
<path d="M625,490C626,489.78 629.18,489.8 631,488.7C632.82,487.6 634.65,486.6 635.9,483.4C637.15,480.2 637.83,475.13 638.5,469.5C639.17,463.87 639.5,456.23 639.9,449.6C640.3,442.97 640.57,436.32 640.9,429.7C641.23,423.08 641.62,414.85 641.9,409.9C642.18,404.95 642.38,405.68 642.6,400C642.82,394.32 643,383 643.2,375.8C643.4,368.6 643.58,363.12 643.8,356.8C644.02,350.48 644.22,344.22 644.5,337.9C644.78,331.58 645.18,323.67 645.5,318.9C645.82,314.13 646.03,309.3 646.4,309.3C646.77,309.3 647.32,314.13 647.7,318.9C648.08,323.67 648.45,331.58 648.7,337.9C648.95,344.22 649.05,350.48 649.2,356.8C649.35,363.12 649.43,370.6 649.6,375.8C649.77,381 649.83,384.97 650.2,388C650.57,391.03 651.37,392.33 651.8,394C652.23,395.67 652.37,393.7 652.8,398C653.23,402.3 653.8,414.52 654.4,419.8C655,425.08 655.6,425.4 656.4,429.7C657.2,434 658.3,440.63 659.2,445.6C660.1,450.57 660.95,454.87 661.8,459.5C662.65,464.13 663.48,469.42 664.3,473.4C665.12,477.38 665.8,481.07 666.7,483.4C667.6,485.73 668.03,486.52 669.7,487.4C671.37,488.28 674.35,488.38 676.7,488.7C679.05,489.02 682.62,489.2 683.8,489.3 L683.8,490.3 L625,490.3 Z" fill="#1f9e80" fill-opacity="0.5"/>
<path d="M634.9,490C635.73,489.57 638.73,489.5 639.9,487.4C641.07,485.3 641.33,481.05 641.9,477.4C642.47,473.75 642.8,469.8 643.3,465.5C643.8,461.2 644.4,454.85 644.9,451.6C645.4,448.35 645.9,446.33 646.3,446C646.7,445.67 646.95,447.35 647.3,449.6C647.65,451.85 647.98,456.85 648.4,459.5C648.82,462.15 649.23,464 649.8,465.5C650.37,467 651.3,467.83 651.8,468.5C652.3,469.17 652.3,468.68 652.8,469.5C653.3,470.32 653.97,471.92 654.8,473.4C655.63,474.88 656.8,476.9 657.8,478.4C658.8,479.9 659.82,481.23 660.8,482.4C661.78,483.57 662.72,484.4 663.7,485.4C664.68,486.4 665.53,487.75 666.7,488.4C667.87,489.05 669.65,489.3 670.7,489.3C671.75,489.3 672.37,488.35 673,488.4C673.63,488.45 673.92,489.67 674.5,489.6C675.08,489.53 676,488.02 676.5,488C677,487.98 677,489.57 677.5,489.5C678,489.43 679,487.6 679.5,487.6C680,487.6 679.78,489.22 680.5,489.5C681.22,489.78 683.25,489.33 683.8,489.3 L683.8,490.3 L634.9,490.3 Z" fill="#c4625a"/>
<path d="M418.4,490.3 v-2.6 M418.4,287.2 v2.6 M445,490.3 v-4.5 M445,287.2 v4.5 M471.6,490.3 v-2.6 M471.6,287.2 v2.6 M498.2,490.3 v-4.5 M498.2,287.2 v4.5 M524.8,490.3 v-2.6 M524.8,287.2 v2.6 M551.4,490.3 v-4.5 M551.4,287.2 v4.5 M578,490.3 v-2.6 M578,287.2 v2.6 M604.6,490.3 v-4.5 M604.6,287.2 v4.5 M631.2,490.3 v-2.6 M631.2,287.2 v2.6 M657.8,490.3 v-4.5 M657.8,287.2 v4.5 M391.8,467.8 h2.6 M683.8,467.8 h-2.6 M391.8,445.3 h4.5 M683.8,445.3 h-4.5 M391.8,422.8 h2.6 M683.8,422.8 h-2.6 M391.8,400.3 h4.5 M683.8,400.3 h-4.5 M391.8,377.8 h2.6 M683.8,377.8 h-2.6 M391.8,355.3 h4.5 M683.8,355.3 h-4.5 M391.8,332.8 h2.6 M683.8,332.8 h-2.6 M391.8,310.3 h4.5 M683.8,310.3 h-4.5 M391.8,287.8 h2.6 M683.8,287.8 h-2.6" stroke="#111" stroke-width="1.1" fill="none"/>
<rect x="391.8" y="287.2" width="292" height="203.1" fill="none" stroke="#111" stroke-width="1.2"/>
<path d="M391.8,490.21C391.98,490.21 392.51,490.21 392.86,490.21C393.22,490.21 393.57,490.21 393.93,490.21C394.28,490.21 394.64,490.21 394.99,490.21C395.35,490.21 395.7,490.21 396.06,490.21C396.41,490.21 396.77,490.21 397.12,490.21C397.47,490.21 397.83,490.21 398.18,490.21C398.54,490.21 398.89,490.21 399.25,490.21C399.6,490.21 399.96,490.21 400.31,490.21C400.67,490.21 401.02,490.21 401.38,490.21C401.73,490.21 402.09,490.21 402.44,490.21C402.79,490.21 403.15,490.21 403.5,490.21C403.86,490.21 404.21,490.21 404.57,490.21C404.92,490.21 405.28,490.21 405.63,490.21C405.99,490.21 406.34,490.21 406.7,490.21C407.05,490.21 407.41,490.21 407.76,490.21C408.11,490.21 408.47,490.21 408.82,490.21C409.18,490.21 409.53,490.21 409.89,490.21C410.24,490.21 410.6,490.21 410.95,490.21C411.31,490.21 411.66,490.21 412.02,490.21C412.37,490.21 412.73,490.21 413.08,490.21C413.43,490.21 413.79,490.21 414.14,490.21C414.5,490.21 414.85,490.21 415.21,490.21C415.56,490.21 415.92,490.21 416.27,490.21C416.63,490.21 416.98,490.21 417.34,490.21C417.69,490.21 418.05,490.21 418.4,490.21C418.75,490.21 419.11,490.21 419.46,490.21C419.82,490.21 420.17,490.21 420.53,490.21C420.88,490.21 421.24,490.21 421.59,490.21C421.95,490.21 422.3,490.21 422.66,490.21C423.01,490.21 423.37,490.21 423.72,490.21C424.07,490.21 424.43,490.21 424.78,490.21C425.14,490.21 425.49,490.21 425.85,490.21C426.2,490.21 426.56,490.21 426.91,490.21C427.27,490.21 427.62,490.21 427.98,490.21C428.33,490.21 428.69,490.21 429.04,490.21C429.39,490.21 429.75,490.21 430.1,490.21C430.46,490.21 430.81,490.21 431.17,490.21C431.52,490.21 431.88,490.21 432.23,490.21C432.59,490.21 432.94,490.21 433.3,490.21C433.65,490.21 434.01,490.21 434.36,490.21C434.71,490.21 435.07,490.21 435.42,490.21C435.78,490.21 436.13,490.21 436.49,490.21C436.84,490.21 437.2,490.21 437.55,490.21C437.91,490.21 438.26,490.21 438.62,490.21C438.97,490.21 439.33,490.21 439.68,490.21C440.03,490.21 440.39,490.21 440.74,490.21C441.1,490.21 441.45,490.21 441.81,490.21C442.16,490.21 442.52,490.21 442.87,490.21C443.23,490.21 443.58,490.21 443.94,490.21C444.29,490.21 444.65,490.21 445,490.21C445.35,490.21 445.71,490.21 446.06,490.21C446.42,490.21 446.77,490.21 447.13,490.21C447.48,490.21 447.84,490.21 448.19,490.21C448.55,490.21 448.9,490.21 449.26,490.21C449.61,490.21 449.97,490.21 450.32,490.21C450.67,490.21 451.03,490.21 451.38,490.21C451.74,490.21 452.09,490.21 452.45,490.21C452.8,490.21 453.16,490.21 453.51,490.21C453.87,490.21 454.22,490.21 454.58,490.21C454.93,490.21 455.29,490.21 455.64,490.21C455.99,490.21 456.35,490.21 456.7,490.21C457.06,490.21 457.41,490.21 457.77,490.21C458.12,490.21 458.48,490.21 458.83,490.21C459.19,490.21 459.54,490.21 459.9,490.21C460.25,490.21 460.61,490.21 460.96,490.21C461.31,490.21 461.67,490.21 462.02,490.21C462.38,490.21 462.73,490.21 463.09,490.21C463.44,490.21 463.8,490.21 464.15,490.21C464.51,490.21 464.86,490.21 465.22,490.21C465.57,490.21 465.93,490.21 466.28,490.21C466.63,490.21 466.99,490.21 467.34,490.21C467.7,490.21 468.05,490.21 468.41,490.21C468.76,490.21 469.12,490.21 469.47,490.21C469.83,490.21 470.18,490.21 470.54,490.21C470.89,490.2 471.25,490.21 471.6,490.19C471.95,490.16 472.31,490.13 472.66,490.08C473.02,490.02 473.37,489.93 473.73,489.85C474.08,489.77 474.44,489.67 474.79,489.61C475.15,489.54 475.5,489.49 475.86,489.46C476.21,489.43 476.57,489.42 476.92,489.41C477.27,489.4 477.63,489.4 477.98,489.4C478.34,489.4 478.69,489.4 479.05,489.4C479.4,489.4 479.76,489.4 480.11,489.41C480.47,489.42 480.82,489.43 481.18,489.46C481.53,489.49 481.89,489.54 482.24,489.61C482.59,489.67 482.95,489.77 483.3,489.85C483.66,489.93 484.01,490.02 484.37,490.08C484.72,490.13 485.08,490.16 485.43,490.19C485.79,490.21 486.14,490.2 486.5,490.21C486.85,490.21 487.21,490.21 487.56,490.21C487.91,490.21 488.27,490.21 488.62,490.21C488.98,490.21 489.33,490.21 489.69,490.21C490.04,490.21 490.4,490.21 490.75,490.21C491.11,490.21 491.46,490.21 491.82,490.21C492.17,490.21 492.53,490.21 492.88,490.21C493.23,490.21 493.59,490.21 493.94,490.21C494.3,490.21 494.65,490.21 495.01,490.21C495.36,490.21 495.72,490.21 496.07,490.21C496.43,490.21 496.78,490.21 497.14,490.21C497.49,490.21 497.85,490.21 498.2,490.21C498.55,490.21 498.91,490.21 499.26,490.21C499.62,490.21 499.97,490.21 500.33,490.21C500.68,490.21 501.04,490.21 501.39,490.21C501.75,490.21 502.1,490.21 502.46,490.21C502.81,490.21 503.17,490.21 503.52,490.21C503.87,490.21 504.23,490.21 504.58,490.21C504.94,490.21 505.29,490.21 505.65,490.21C506,490.21 506.36,490.21 506.71,490.21C507.07,490.21 507.42,490.21 507.78,490.21C508.13,490.21 508.49,490.21 508.84,490.21C509.19,490.21 509.55,490.21 509.9,490.21C510.26,490.21 510.61,490.21 510.97,490.21C511.32,490.21 511.68,490.21 512.03,490.21C512.39,490.21 512.74,490.21 513.1,490.21C513.45,490.21 513.81,490.21 514.16,490.21C514.51,490.21 514.87,490.21 515.22,490.21C515.58,490.21 515.93,490.21 516.29,490.21C516.64,490.21 517,490.21 517.35,490.21C517.71,490.21 518.06,490.21 518.42,490.21C518.77,490.21 519.13,490.21 519.48,490.21C519.83,490.21 520.19,490.21 520.54,490.21C520.9,490.21 521.25,490.21 521.61,490.21C521.96,490.21 522.32,490.21 522.67,490.21C523.03,490.21 523.38,490.21 523.74,490.21C524.09,490.21 524.45,490.21 524.8,490.21C525.15,490.21 525.51,490.21 525.86,490.21C526.22,490.21 526.57,490.21 526.93,490.21C527.28,490.21 527.64,490.21 527.99,490.21C528.35,490.21 528.7,490.21 529.06,490.21C529.41,490.21 529.77,490.21 530.12,490.21C530.47,490.21 530.83,490.21 531.18,490.21C531.54,490.21 531.89,490.21 532.25,490.21C532.6,490.21 532.96,490.21 533.31,490.21C533.67,490.21 534.02,490.21 534.38,490.21C534.73,490.21 535.09,490.21 535.44,490.21C535.79,490.21 536.15,490.21 536.5,490.21C536.86,490.21 537.21,490.21 537.57,490.21C537.92,490.21 538.28,490.21 538.63,490.21C538.99,490.21 539.34,490.21 539.7,490.21C540.05,490.21 540.41,490.21 540.76,490.21C541.11,490.21 541.47,490.21 541.82,490.21C542.18,490.21 542.53,490.21 542.89,490.21C543.24,490.21 543.6,490.21 543.95,490.21C544.31,490.21 544.66,490.21 545.02,490.21C545.37,490.21 545.73,490.21 546.08,490.21C546.43,490.21 546.79,490.21 547.14,490.21C547.5,490.21 547.85,490.2 548.21,490.2C548.56,490.2 548.92,490.19 549.27,490.18C549.63,490.18 549.98,490.17 550.34,490.15C550.69,490.13 551.05,490.12 551.4,490.09C551.75,490.06 552.11,490.03 552.46,489.99C552.82,489.94 553.17,489.89 553.53,489.84C553.88,489.79 554.24,489.72 554.59,489.66C554.95,489.61 555.3,489.54 555.66,489.49C556.01,489.44 556.37,489.39 556.72,489.36C557.07,489.33 557.43,489.31 557.78,489.31C558.14,489.3 558.49,489.32 558.85,489.35C559.2,489.37 559.56,489.42 559.91,489.46C560.27,489.5 560.62,489.55 560.98,489.6C561.33,489.64 561.69,489.68 562.04,489.71C562.39,489.73 562.75,489.75 563.1,489.75C563.46,489.75 563.81,489.74 564.17,489.72C564.52,489.71 564.88,489.67 565.23,489.64C565.59,489.61 565.94,489.57 566.3,489.55C566.65,489.52 567.01,489.5 567.36,489.49C567.71,489.48 568.07,489.48 568.42,489.5C568.78,489.51 569.13,489.54 569.49,489.57C569.84,489.61 570.2,489.66 570.55,489.7C570.91,489.75 571.26,489.8 571.62,489.85C571.97,489.89 572.33,489.94 572.68,489.98C573.03,490.01 573.39,490.05 573.74,490.08C574.1,490.1 574.45,490.12 574.81,490.14C575.16,490.16 575.52,490.17 575.87,490.18C576.23,490.19 576.58,490.19 576.94,490.2C577.29,490.2 577.65,490.2 578,490.21C578.35,490.21 578.71,490.21 579.06,490.21C579.42,490.21 579.77,490.21 580.13,490.21C580.48,490.21 580.84,490.21 581.19,490.21C581.55,490.21 581.9,490.21 582.26,490.21C582.61,490.21 582.97,490.21 583.32,490.21C583.67,490.21 584.03,490.21 584.38,490.21C584.74,490.21 585.09,490.21 585.45,490.21C585.8,490.21 586.16,490.21 586.51,490.21C586.87,490.21 587.22,490.21 587.58,490.21C587.93,490.21 588.29,490.21 588.64,490.21C588.99,490.21 589.35,490.21 589.7,490.21C590.06,490.21 590.41,490.21 590.77,490.21C591.12,490.21 591.48,490.21 591.83,490.21C592.19,490.21 592.54,490.21 592.9,490.21C593.25,490.21 593.61,490.21 593.96,490.21C594.31,490.21 594.67,490.21 595.02,490.21C595.38,490.21 595.73,490.21 596.09,490.21C596.44,490.21 596.8,490.21 597.15,490.21C597.51,490.21 597.86,490.21 598.22,490.21C598.57,490.21 598.93,490.21 599.28,490.21C599.63,490.21 599.99,490.21 600.34,490.21C600.7,490.21 601.05,490.21 601.41,490.21C601.76,490.21 602.12,490.21 602.47,490.21C602.83,490.21 603.18,490.21 603.54,490.21C603.89,490.21 604.25,490.21 604.6,490.21C604.95,490.21 605.31,490.21 605.66,490.21C606.02,490.21 606.37,490.21 606.73,490.21C607.08,490.21 607.44,490.21 607.79,490.21C608.15,490.21 608.5,490.21 608.86,490.21C609.21,490.21 609.57,490.21 609.92,490.21C610.27,490.21 610.63,490.21 610.98,490.21C611.34,490.21 611.69,490.21 612.05,490.21C612.4,490.21 612.76,490.21 613.11,490.21C613.47,490.21 613.82,490.21 614.18,490.21C614.53,490.21 614.89,490.21 615.24,490.21C615.59,490.21 615.95,490.21 616.3,490.21C616.66,490.21 617.01,490.21 617.37,490.21C617.72,490.21 618.08,490.21 618.43,490.21C618.79,490.21 619.14,490.21 619.5,490.21C619.85,490.21 620.21,490.21 620.56,490.21C620.91,490.21 621.27,490.21 621.62,490.21C621.98,490.21 622.33,490.21 622.69,490.21C623.04,490.21 623.4,490.21 623.75,490.21C624.11,490.21 624.46,490.21 624.82,490.21C625.17,490.21 624.2,490.25 625.88,490.21C627.56,490.18 632.56,490.47 634.9,490C637.24,489.53 638.73,489.5 639.9,487.4C641.07,485.3 641.33,481.05 641.9,477.4C642.47,473.75 642.8,469.8 643.3,465.5C643.8,461.2 644.4,454.85 644.9,451.6C645.4,448.35 645.9,446.33 646.3,446C646.7,445.67 646.95,447.35 647.3,449.6C647.65,451.85 647.98,456.85 648.4,459.5C648.82,462.15 649.23,464 649.8,465.5C650.37,467 651.3,467.83 651.8,468.5C652.3,469.17 652.3,468.68 652.8,469.5C653.3,470.32 653.97,471.92 654.8,473.4C655.63,474.88 656.8,476.9 657.8,478.4C658.8,479.9 659.82,481.23 660.8,482.4C661.78,483.57 662.72,484.4 663.7,485.4C664.68,486.4 665.53,487.75 666.7,488.4C667.87,489.05 669.65,489.3 670.7,489.3C671.75,489.3 672.37,488.35 673,488.4C673.63,488.45 673.92,489.67 674.5,489.6C675.08,489.53 676,488.02 676.5,488C677,487.98 677,489.57 677.5,489.5C678,489.43 679,487.6 679.5,487.6C680,487.6 679.78,489.22 680.5,489.5C681.22,489.78 683.25,489.33 683.8,489.3" fill="none" stroke="#e8102c" stroke-width="1.2"/>
<path d="M391.8,490.12C391.98,490.12 392.51,490.12 392.86,490.12C393.22,490.12 393.57,490.12 393.93,490.12C394.28,490.12 394.64,490.12 394.99,490.12C395.35,490.12 395.7,490.12 396.06,490.12C396.41,490.12 396.77,490.12 397.12,490.12C397.47,490.12 397.83,490.12 398.18,490.12C398.54,490.12 398.89,490.12 399.25,490.12C399.6,490.12 399.96,490.12 400.31,490.12C400.67,490.12 401.02,490.12 401.38,490.12C401.73,490.12 402.09,490.12 402.44,490.12C402.79,490.12 403.15,490.12 403.5,490.12C403.86,490.12 404.21,490.12 404.57,490.12C404.92,490.12 405.28,490.12 405.63,490.12C405.99,490.12 406.34,490.12 406.7,490.12C407.05,490.12 407.41,490.12 407.76,490.11C408.11,490.11 408.47,490.11 408.82,490.1C409.18,490.09 409.53,490.08 409.89,490.06C410.24,490.05 410.6,490.03 410.95,490C411.31,489.97 411.66,489.93 412.02,489.88C412.37,489.84 412.73,489.79 413.08,489.74C413.43,489.69 413.79,489.63 414.14,489.59C414.5,489.55 414.85,489.52 415.21,489.5C415.56,489.49 415.92,489.49 416.27,489.5C416.63,489.52 416.98,489.55 417.34,489.59C417.69,489.63 418.05,489.69 418.4,489.74C418.75,489.79 419.11,489.84 419.46,489.88C419.82,489.93 420.17,489.97 420.53,490C420.88,490.03 421.24,490.05 421.59,490.06C421.95,490.08 422.3,490.09 422.66,490.1C423.01,490.11 423.37,490.11 423.72,490.11C424.07,490.12 424.43,490.12 424.78,490.12C425.14,490.12 425.49,490.12 425.85,490.12C426.2,490.12 426.56,490.12 426.91,490.12C427.27,490.12 427.62,490.12 427.98,490.12C428.33,490.12 428.69,490.12 429.04,490.12C429.39,490.12 429.75,490.12 430.1,490.12C430.46,490.12 430.81,490.12 431.17,490.12C431.52,490.12 431.88,490.12 432.23,490.12C432.59,490.12 432.94,490.12 433.3,490.12C433.65,490.12 434.01,490.12 434.36,490.12C434.71,490.12 435.07,490.12 435.42,490.12C435.78,490.12 436.13,490.12 436.49,490.12C436.84,490.12 437.2,490.12 437.55,490.12C437.91,490.12 438.26,490.12 438.62,490.12C438.97,490.12 439.33,490.12 439.68,490.12C440.03,490.12 440.39,490.12 440.74,490.12C441.1,490.12 441.45,490.12 441.81,490.12C442.16,490.12 442.52,490.12 442.87,490.12C443.23,490.12 443.58,490.12 443.94,490.12C444.29,490.12 444.65,490.12 445,490.12C445.35,490.12 445.71,490.12 446.06,490.12C446.42,490.12 446.77,490.12 447.13,490.12C447.48,490.12 447.84,490.12 448.19,490.12C448.55,490.12 448.9,490.12 449.26,490.12C449.61,490.12 449.97,490.12 450.32,490.12C450.67,490.12 451.03,490.12 451.38,490.12C451.74,490.12 452.09,490.12 452.45,490.12C452.8,490.12 453.16,490.12 453.51,490.12C453.87,490.12 454.22,490.12 454.58,490.12C454.93,490.12 455.29,490.12 455.64,490.12C455.99,490.12 456.35,490.12 456.7,490.12C457.06,490.12 457.41,490.12 457.77,490.12C458.12,490.12 458.48,490.12 458.83,490.12C459.19,490.12 459.54,490.12 459.9,490.12C460.25,490.12 460.61,490.12 460.96,490.12C461.31,490.12 461.67,490.12 462.02,490.12C462.38,490.12 462.73,490.12 463.09,490.12C463.44,490.12 463.8,490.12 464.15,490.12C464.51,490.12 464.86,490.12 465.22,490.11C465.57,490.11 465.93,490.11 466.28,490.09C466.63,490.08 466.99,490.07 467.34,490.03C467.7,489.99 468.05,489.95 468.41,489.87C468.76,489.78 469.12,489.68 469.47,489.53C469.83,489.37 470.18,489.17 470.54,488.93C470.89,488.69 471.25,488.38 471.6,488.07C471.95,487.75 472.31,487.38 472.66,487.04C473.02,486.7 473.37,486.33 473.73,486.02C474.08,485.72 474.44,485.43 474.79,485.21C475.15,485 475.5,484.84 475.86,484.73C476.21,484.62 476.57,484.58 476.92,484.55C477.27,484.52 477.63,484.52 477.98,484.55C478.34,484.58 478.69,484.62 479.05,484.73C479.4,484.84 479.76,485 480.11,485.21C480.47,485.43 480.82,485.72 481.18,486.02C481.53,486.33 481.89,486.7 482.24,487.04C482.59,487.38 482.95,487.75 483.3,488.07C483.66,488.38 484.01,488.69 484.37,488.93C484.72,489.17 485.08,489.37 485.43,489.53C485.79,489.68 486.14,489.78 486.5,489.87C486.85,489.95 487.21,489.99 487.56,490.03C487.91,490.07 488.27,490.08 488.62,490.09C488.98,490.11 489.33,490.11 489.69,490.11C490.04,490.12 490.4,490.12 490.75,490.12C491.11,490.12 491.46,490.12 491.82,490.12C492.17,490.12 492.53,490.12 492.88,490.12C493.23,490.12 493.59,490.12 493.94,490.12C494.3,490.12 494.65,490.12 495.01,490.12C495.36,490.12 495.72,490.12 496.07,490.12C496.43,490.12 496.78,490.12 497.14,490.12C497.49,490.12 497.85,490.12 498.2,490.12C498.55,490.12 498.91,490.12 499.26,490.12C499.62,490.12 499.97,490.12 500.33,490.12C500.68,490.12 501.04,490.12 501.39,490.12C501.75,490.12 502.1,490.12 502.46,490.12C502.81,490.12 503.17,490.12 503.52,490.12C503.87,490.12 504.23,490.12 504.58,490.12C504.94,490.12 505.29,490.12 505.65,490.12C506,490.12 506.36,490.12 506.71,490.12C507.07,490.12 507.42,490.12 507.78,490.12C508.13,490.12 508.49,490.12 508.84,490.12C509.19,490.12 509.55,490.12 509.9,490.12C510.26,490.12 510.61,490.12 510.97,490.12C511.32,490.12 511.68,490.12 512.03,490.12C512.39,490.12 512.74,490.12 513.1,490.12C513.45,490.12 513.81,490.12 514.16,490.12C514.51,490.12 514.87,490.12 515.22,490.12C515.58,490.12 515.93,490.12 516.29,490.12C516.64,490.12 517,490.12 517.35,490.12C517.71,490.12 518.06,490.12 518.42,490.12C518.77,490.12 519.13,490.12 519.48,490.12C519.83,490.12 520.19,490.12 520.54,490.12C520.9,490.12 521.25,490.12 521.61,490.12C521.96,490.12 522.32,490.12 522.67,490.12C523.03,490.12 523.38,490.12 523.74,490.12C524.09,490.12 524.45,490.12 524.8,490.12C525.15,490.12 525.51,490.12 525.86,490.12C526.22,490.12 526.57,490.12 526.93,490.12C527.28,490.12 527.64,490.12 527.99,490.12C528.35,490.12 528.7,490.12 529.06,490.12C529.41,490.12 529.77,490.12 530.12,490.12C530.47,490.12 530.83,490.12 531.18,490.12C531.54,490.12 531.89,490.12 532.25,490.12C532.6,490.12 532.96,490.12 533.31,490.12C533.67,490.12 534.02,490.12 534.38,490.12C534.73,490.12 535.09,490.12 535.44,490.12C535.79,490.12 536.15,490.12 536.5,490.12C536.86,490.12 537.21,490.12 537.57,490.12C537.92,490.12 538.28,490.12 538.63,490.12C538.99,490.12 539.34,490.12 539.7,490.12C540.05,490.12 540.41,490.12 540.76,490.12C541.11,490.12 541.47,490.12 541.82,490.12C542.18,490.12 542.53,490.12 542.89,490.12C543.24,490.12 543.6,490.12 543.95,490.12C544.31,490.12 544.66,490.12 545.02,490.12C545.37,490.11 545.73,490.11 546.08,490.11C546.43,490.1 546.79,490.1 547.14,490.08C547.5,490.07 547.85,490.06 548.21,490.03C548.56,490 548.92,489.97 549.27,489.91C549.63,489.86 549.98,489.79 550.34,489.7C550.69,489.6 551.05,489.49 551.4,489.34C551.75,489.19 552.11,489.02 552.46,488.81C552.82,488.61 553.17,488.36 553.53,488.12C553.88,487.87 554.24,487.58 554.59,487.33C554.95,487.07 555.3,486.8 555.66,486.58C556.01,486.37 556.37,486.16 556.72,486.04C557.07,485.91 557.43,485.83 557.78,485.82C558.14,485.81 558.49,485.88 558.85,485.98C559.2,486.09 559.56,486.27 559.91,486.44C560.27,486.61 560.62,486.84 560.98,487.02C561.33,487.2 561.69,487.39 562.04,487.51C562.39,487.64 562.75,487.73 563.1,487.76C563.46,487.79 563.81,487.76 564.17,487.7C564.52,487.64 564.88,487.52 565.23,487.41C565.59,487.3 565.94,487.15 566.3,487.05C566.65,486.96 567.01,486.86 567.36,486.83C567.71,486.8 568.07,486.82 568.42,486.89C568.78,486.96 569.13,487.09 569.49,487.25C569.84,487.4 570.2,487.62 570.55,487.83C570.91,488.03 571.26,488.27 571.62,488.48C571.97,488.69 572.33,488.89 572.68,489.07C573.03,489.24 573.39,489.39 573.74,489.52C574.1,489.64 574.45,489.73 574.81,489.81C575.16,489.89 575.52,489.94 575.87,489.98C576.23,490.02 576.58,490.04 576.94,490.06C577.29,490.08 577.65,490.09 578,490.1C578.35,490.11 578.71,490.11 579.06,490.11C579.42,490.12 579.77,490.12 580.13,490.12C580.48,490.12 580.84,490.12 581.19,490.12C581.55,490.12 581.9,490.12 582.26,490.12C582.61,490.12 582.97,490.12 583.32,490.12C583.67,490.12 584.03,490.12 584.38,490.12C584.74,490.12 585.09,490.12 585.45,490.12C585.8,490.12 586.16,490.12 586.51,490.12C586.87,490.12 587.22,490.12 587.58,490.12C587.93,490.12 588.29,490.12 588.64,490.12C588.99,490.12 589.35,490.12 589.7,490.12C590.06,490.12 590.41,490.12 590.77,490.12C591.12,490.12 591.48,490.12 591.83,490.12C592.19,490.12 592.54,490.12 592.9,490.12C593.25,490.12 593.61,490.12 593.96,490.12C594.31,490.12 594.67,490.12 595.02,490.12C595.38,490.12 595.73,490.12 596.09,490.12C596.44,490.12 596.8,490.12 597.15,490.12C597.51,490.12 597.86,490.12 598.22,490.12C598.57,490.12 598.93,490.12 599.28,490.12C599.63,490.12 599.99,490.12 600.34,490.12C600.7,490.12 601.05,490.12 601.41,490.12C601.76,490.12 602.12,490.12 602.47,490.12C602.83,490.12 603.18,490.12 603.54,490.12C603.89,490.12 604.25,490.12 604.6,490.12C604.95,490.12 605.31,490.12 605.66,490.12C606.02,490.12 606.37,490.12 606.73,490.12C607.08,490.12 607.44,490.12 607.79,490.12C608.15,490.12 608.5,490.12 608.86,490.12C609.21,490.12 609.57,490.12 609.92,490.12C610.27,490.12 610.63,490.12 610.98,490.12C611.34,490.12 611.69,490.12 612.05,490.12C612.4,490.12 612.76,490.12 613.11,490.12C613.47,490.12 613.82,490.12 614.18,490.12C614.53,490.12 614.89,490.12 615.24,490.12C615.59,490.12 615.95,490.12 616.3,490.12C616.66,490.12 617.01,490.12 617.37,490.12C617.72,490.12 618.08,490.12 618.43,490.12C618.79,490.12 619.14,490.12 619.5,490.12C619.85,490.12 620.21,490.12 620.56,490.12C620.91,490.12 621.27,490.12 621.62,490.12C621.98,490.12 622.33,490.12 622.69,490.12C623.04,490.12 623.4,490.12 623.75,490.12C624.11,490.12 624.46,490.12 624.82,490.12C625.17,490.12 625.85,490.14 625.88,490.12C625.91,490.1 624.15,490.24 625,490C625.85,489.76 629.18,489.8 631,488.7C632.82,487.6 634.65,486.6 635.9,483.4C637.15,480.2 637.83,475.13 638.5,469.5C639.17,463.87 639.5,456.23 639.9,449.6C640.3,442.97 640.57,436.32 640.9,429.7C641.23,423.08 641.62,414.85 641.9,409.9C642.18,404.95 642.38,405.68 642.6,400C642.82,394.32 643,383 643.2,375.8C643.4,368.6 643.58,363.12 643.8,356.8C644.02,350.48 644.22,344.22 644.5,337.9C644.78,331.58 645.18,323.67 645.5,318.9C645.82,314.13 646.03,309.3 646.4,309.3C646.77,309.3 647.32,314.13 647.7,318.9C648.08,323.67 648.45,331.58 648.7,337.9C648.95,344.22 649.05,350.48 649.2,356.8C649.35,363.12 649.43,370.6 649.6,375.8C649.77,381 649.83,384.97 650.2,388C650.57,391.03 651.37,392.33 651.8,394C652.23,395.67 652.37,393.7 652.8,398C653.23,402.3 653.8,414.52 654.4,419.8C655,425.08 655.6,425.4 656.4,429.7C657.2,434 658.3,440.63 659.2,445.6C660.1,450.57 660.95,454.87 661.8,459.5C662.65,464.13 663.48,469.42 664.3,473.4C665.12,477.38 665.8,481.07 666.7,483.4C667.6,485.73 668.03,486.52 669.7,487.4C671.37,488.28 674.35,488.38 676.7,488.7C679.05,489.02 682.62,489.2 683.8,489.3" fill="none" stroke="#1f9e80" stroke-width="1.2"/>
<text x="386.6" y="494.3" font-size="15" text-anchor="end" font-weight="normal" fill="#111" font-style="normal"  stroke="#111" stroke-width="0.28">0</text>
<text x="386.6" y="449.3" font-size="15" text-anchor="end" font-weight="normal" fill="#111" font-style="normal"  stroke="#111" stroke-width="0.28">1</text>
<text x="386.6" y="404.3" font-size="15" text-anchor="end" font-weight="normal" fill="#111" font-style="normal"  stroke="#111" stroke-width="0.28">2</text>
<text x="386.6" y="359.3" font-size="15" text-anchor="end" font-weight="normal" fill="#111" font-style="normal"  stroke="#111" stroke-width="0.28">3</text>
<text x="386.6" y="314.3" font-size="15" text-anchor="end" font-weight="normal" fill="#111" font-style="normal"  stroke="#111" stroke-width="0.28">4</text>
<text x="391.8" y="508" font-size="15" text-anchor="middle" font-weight="normal" fill="#111" font-style="normal"  stroke="#111" stroke-width="0.28">500</text>
<text x="445" y="508" font-size="15" text-anchor="middle" font-weight="normal" fill="#111" font-style="normal"  stroke="#111" stroke-width="0.28">600</text>
<text x="498.2" y="508" font-size="15" text-anchor="middle" font-weight="normal" fill="#111" font-style="normal"  stroke="#111" stroke-width="0.28">700</text>
<text x="551.4" y="508" font-size="15" text-anchor="middle" font-weight="normal" fill="#111" font-style="normal"  stroke="#111" stroke-width="0.28">800</text>
<text x="604.6" y="508" font-size="15" text-anchor="middle" font-weight="normal" fill="#111" font-style="normal"  stroke="#111" stroke-width="0.28">900</text>
<text x="657.8" y="508" font-size="15" text-anchor="middle" font-weight="normal" fill="#111" font-style="normal"  stroke="#111" stroke-width="0.28">1000</text>
<text x="537.4" y="524.2" font-size="15.3" text-anchor="middle" font-weight="normal" fill="#111" font-style="normal"  stroke="#111" stroke-width="0.28">Wavelength [nm]</text>
<text transform="translate(367.3,388.6) rotate(-90)" font-size="15.3" text-anchor="middle" fill="#111" stroke="#111" stroke-width="0.28">UCPL [a.u.]</text>
<path d="M401.3,298.8 H423.6" stroke="#e8606e" stroke-width="1.6"/>
<path d="M401.3,334.6 H423.6" stroke="#48b89c" stroke-width="1.6"/>
<text x="426.5" y="301.8" font-size="9.8" text-anchor="start" font-weight="normal" fill="#111" font-style="normal"  stroke="#111" stroke-width="0.28">Reference</text>
<text x="426.5" y="338.2" font-size="9.8" text-anchor="start" font-weight="normal" fill="#111" font-style="normal"  stroke="#111" stroke-width="0.28">Bragg structure</text>
<text x="426.5" y="352" font-size="9.8" text-anchor="start" font-weight="normal" fill="#111" font-style="normal"  stroke="#111" stroke-width="0.28"><tspan font-style="italic">λ</tspan><tspan font-size="9.3" dy="3.6">design</tspan><tspan dy="-3.6" dx="0.6">1844 nm</tspan></text>
<path d="M475.9,300.6 L509.4,307.6 L509.4,320.2 L475.9,313.2 Z" fill="#f6cd9e"/><path d="M509.1,307.6 L550.2,301.3 L550.2,313.9 L509.1,320.2 Z" fill="#f0c595"/><path d="M475.9,303.7 L509.4,310.7 L509.4,311.45 L475.9,304.45 Z" fill="#a98a6a"/><path d="M509.1,310.7 L550.2,304.4 L550.2,305.15 L509.1,311.45 Z" fill="#a98a6a"/><path d="M475.9,306.05 L509.4,313.05 L509.4,313.8 L475.9,306.8 Z" fill="#a98a6a"/><path d="M509.1,313.05 L550.2,306.75 L550.2,307.5 L509.1,313.8 Z" fill="#a98a6a"/><path d="M475.9,308.4 L509.4,315.4 L509.4,316.15 L475.9,309.15 Z" fill="#a98a6a"/><path d="M509.1,315.4 L550.2,309.1 L550.2,309.85 L509.1,316.15 Z" fill="#a98a6a"/><path d="M475.9,310.75 L509.4,317.75 L509.4,318.5 L475.9,311.5 Z" fill="#a98a6a"/><path d="M509.1,317.75 L550.2,311.45 L550.2,312.2 L509.1,318.5 Z" fill="#a98a6a"/><path d="M475.9,301.4 L516,295.2 L550.2,302.1 L509.4,308.4 Z" fill="#f0b987"/>
<path d="M509.9,332.3 L544,338.9 L544,359.2 L509.9,352.6 Z" fill="#3d69b2"/><path d="M543.7,338.9 L584.8,333.4 L584.8,353.7 L543.7,359.2 Z" fill="#3a64ab"/><path d="M509.9,335.7 L544,342.3 L544,344.3 L509.9,337.7 Z" fill="#ebca9c"/><path d="M543.7,342.3 L584.8,336.8 L584.8,338.8 L543.7,344.3 Z" fill="#ebca9c"/><path d="M509.9,339.85 L544,346.45 L544,348.45 L509.9,341.85 Z" fill="#ebca9c"/><path d="M543.7,346.45 L584.8,340.95 L584.8,342.95 L543.7,348.45 Z" fill="#ebca9c"/><path d="M509.9,344 L544,350.6 L544,352.6 L509.9,346 Z" fill="#ebca9c"/><path d="M543.7,350.6 L584.8,345.1 L584.8,347.1 L543.7,352.6 Z" fill="#ebca9c"/><path d="M509.9,348.15 L544,354.75 L544,356.75 L509.9,350.15 Z" fill="#ebca9c"/><path d="M543.7,354.75 L584.8,349.25 L584.8,351.25 L543.7,356.75 Z" fill="#ebca9c"/><path d="M509.9,333.1 L550.6,327.2 L584.8,334.2 L544,339.7 Z" fill="#4b80c6"/>
<text x="612" y="303.1" font-size="10.2" fill="#111" stroke="#111" stroke-width="0.28"><tspan font-size="7.4" dy="-4.4">4</tspan><tspan font-style="italic" dy="4.4" dx="0.4">I</tspan><tspan font-size="8.4" dy="2.0">11/2</tspan></text>
<path d="M639.3,300.7 H646.1" stroke="#111" stroke-width="1.2"/><path d="M651.2,300.7 L645.6,298.1 L645.6,303.3 Z" fill="#111"/>
<text x="653.6" y="303.1" font-size="10.2" fill="#111" stroke="#111" stroke-width="0.28"><tspan font-size="7.4" dy="-4.4">4</tspan><tspan font-style="italic" dy="4.4" dx="0.4">I</tspan><tspan font-size="8.4" dy="2.0">15/2</tspan></text>
<text x="595.1" y="330.8" font-size="9.8" text-anchor="start" font-weight="normal" fill="#111" font-style="normal"  stroke="#111" stroke-width="0.28">Main UC</text>
<text x="595.1" y="342.4" font-size="9.8" text-anchor="start" font-weight="normal" fill="#111" font-style="normal"  stroke="#111" stroke-width="0.28">emission</text>
<path d="M617.6,346.5 L646,383" stroke="#111" stroke-width="0.9"/>
<path d="M427.2,463 L392.5,489.8 M612.5,463.5 L604.5,490" stroke="#111" stroke-width="0.9" stroke-dasharray="2.2 1.6"/>
<rect x="427.2" y="380.2" width="185.3" height="82.8" fill="#fff"/>
<path d="M427.6,462.76 L428.8,462.82 L430.44,462.57 L432.41,462.8 L434.61,462.77 L436.93,462.91 L439.25,462.67 L441.48,462.59 L443.5,462.53 L445.21,462.79 L446.5,462.86 L447.38,462.56 L447.98,462.29 L448.34,462.56 L448.52,462.22 L448.56,462.01 L448.51,461.88 L448.43,462.19 L448.37,462.14 L448.38,462 L448.5,461.88 L448.5,461.95 L448.2,461.79 L447.73,462.3 L447.21,462.01 L446.78,462.27 L446.57,462.47 L446.7,462.57 L447.32,462.44 L448.54,462.42 L450.5,462.63 L453.49,462.42 L457.52,462.9 L462.33,462.66 L467.67,463 L473.27,462.69 L478.87,462.78 L484.2,462.73 L489.01,462.85 L493.03,462.72 L496,462.6 L497.94,463.03 L499.13,462.77 L499.71,462.76 L499.8,462.8 L499.55,462.89 L499.08,462.83 L498.53,462.9 L498.02,462.82 L497.7,462.5 L497.7,462.66 L497.91,462.37 L498.13,461.58 L498.36,461.69 L498.59,461.35 L498.83,460.86 L499.07,460.05 L499.31,460.03 L499.55,459.48 L499.78,458.7 L500,458.31 L500.21,458.49 L500.41,457.93 L500.61,457.29 L500.8,456.81 L500.99,456.44 L501.18,456.12 L501.37,456.09 L501.57,455.49 L501.78,455.07 L502,455.24 L502.23,454.92 L502.47,454.3 L502.71,454.5 L502.96,454.11 L503.21,454.03 L503.47,453.8 L503.73,453.81 L503.99,453.67 L504.24,453.67 L504.5,453.32 L504.75,453.7 L505,453.75 L505.25,454.07 L505.49,454.12 L505.74,454.66 L506,454.77 L506.26,454.93 L506.53,455.27 L506.81,455.59 L507.1,456.2 L507.4,456.37 L507.7,457.12 L508.01,457.48 L508.32,458.27 L508.64,458.87 L508.98,459.48 L509.33,460.24 L509.7,460.25 L510.09,461.22 L510.5,461.38 L510.75,461.75 L510.72,462.08 L510.54,462.4 L510.34,462.3 L510.24,462.48 L510.36,462.92 L510.83,462.5 L511.78,462.92 L513.33,463 L515.6,462.72 L518.89,463.13 L523.25,463.22 L528.39,463.39 L534.06,463.03 L539.98,463.41 L545.88,463.1 L551.5,463.06 L556.58,463.28 L560.83,462.74 L564,463.13 L566.09,463.07 L567.38,462.91 L568.02,463.24 L568.14,462.96 L567.91,463.03 L567.45,463.06 L566.92,463.17 L566.45,462.78 L566.2,462.81 L566.3,462.65 L566.65,462.54 L567.04,462.47 L567.47,461.88 L567.91,461.91 L568.37,461.33 L568.84,461.04 L569.31,460.54 L569.76,460.3 L570.19,460.19 L570.6,459.59 L570.99,459.24 L571.36,458.48 L571.73,457.96 L572.09,457.41 L572.44,457.03 L572.78,456.52 L573.12,456.09 L573.45,455.15 L573.78,455.12 L574.1,454.83 L574.42,454.28 L574.73,453.66 L575.04,453.51 L575.34,453.06 L575.64,452.93 L575.93,453.16 L576.21,452.8 L576.48,452.7 L576.75,452.7 L577,452.75 L577.24,452.61 L577.46,452.72 L577.67,452.9 L577.87,453.16 L578.07,453.35 L578.26,453.67 L578.46,453.67 L578.66,454.22 L578.87,454.35 L579.1,454.76 L579.34,454.58 L579.58,454.88 L579.83,455.05 L580.08,455.76 L580.34,456.1 L580.6,456.18 L580.87,456.21 L581.14,456.64 L581.42,456.73 L581.7,456.64 L581.99,456.41 L582.29,456.3 L582.6,456.17 L582.92,455.86 L583.24,455.65 L583.56,455.5 L583.88,455.42 L584.19,454.67 L584.5,454.82 L584.8,454.42 L585.09,454.46 L585.38,454.89 L585.66,454.8 L585.94,455.09 L586.21,454.92 L586.49,454.81 L586.76,455.21 L587.04,455.55 L587.32,455.99 L587.6,456.29 L587.87,456.31 L588.13,456.66 L588.38,456.91 L588.62,457.71 L588.88,457.95 L589.14,458.42 L589.43,458.83 L589.75,459.29 L590.1,460.13 L590.5,460.17 L590.9,461.02 L591.28,460.81 L591.65,461.59 L592.04,461.43 L592.47,461.63 L592.97,462.3 L593.56,462.23 L594.26,462.72 L595.1,462.57 L596.1,462.63 L597.36,463.17 L598.91,463.2 L600.67,463.32 L602.56,463.26 L604.5,462.86 L606.42,463.16 L608.22,463.18 L609.84,463 L611.19,463.26 L612.2,462.85" fill="none" stroke="#e8102c" stroke-width="1.2"/>
<path d="M427.6,462.11 L428.51,462.56 L429.75,462.6 L431.24,462.43 L432.89,462.12 L434.64,462.45 L436.41,462.36 L438.1,462.75 L439.65,462.16 L440.98,462.62 L442,462.65 L442.74,462.38 L443.27,462.34 L443.65,461.8 L443.89,462.24 L444.04,461.76 L444.12,461.94 L444.18,461.74 L444.24,461.02 L444.33,461.24 L444.5,461.1 L444.71,460.21 L444.91,460.07 L445.11,459.98 L445.29,459.17 L445.47,459.27 L445.65,458.42 L445.82,458.41 L445.98,457.56 L446.14,457.48 L446.3,457.49 L446.45,456.76 L446.59,456.58 L446.72,456.56 L446.85,456.26 L446.98,455.91 L447.1,455.89 L447.22,455.77 L447.34,456.22 L447.47,455.97 L447.6,456.08 L447.74,455.54 L447.87,455.96 L448.01,455.51 L448.14,455.83 L448.28,455.96 L448.42,455.84 L448.56,456.29 L448.71,456.17 L448.85,456.31 L449,456.67 L449.15,456.29 L449.3,457.11 L449.45,457.08 L449.61,457.16 L449.76,457.7 L449.92,457.59 L450.08,458.37 L450.25,458.35 L450.42,458.45 L450.6,458.99 L450.78,459.01 L450.95,459.07 L451.13,459.73 L451.3,459.51 L451.49,460.31 L451.68,460.16 L451.88,460.67 L452.1,461.14 L452.34,461.07 L452.6,461.31 L452.73,461.24 L452.64,461.17 L452.43,461.33 L452.2,461.53 L452.05,461.97 L452.08,461.94 L452.39,462.09 L453.08,462.44 L454.25,461.97 L456,462.11 L458.56,462.47 L461.95,462.08 L465.96,462.1 L470.39,462.38 L475.03,462.23 L479.67,462.42 L484.09,462.33 L488.09,462.58 L491.47,462.58 L494,462.29 L495.72,462.62 L496.84,462.63 L497.48,462.54 L497.73,463.26 L497.7,462.9 L497.49,462.89 L497.2,462.8 L496.94,462.98 L496.8,462.76 L496.9,462.1 L497.14,460.99 L497.37,459.86 L497.59,458.46 L497.79,457.55 L497.99,456.02 L498.19,454.32 L498.37,452.92 L498.55,451.15 L498.73,449.88 L498.9,448.16 L499.07,446.29 L499.22,445.22 L499.37,443.08 L499.51,441.85 L499.65,440.16 L499.78,438.38 L499.91,436.51 L500.04,435.19 L500.17,432.72 L500.3,431.04 L500.43,429.04 L500.55,425.98 L500.67,423.35 L500.79,420.85 L500.91,417.96 L501.03,415.26 L501.15,412.67 L501.26,409.66 L501.38,407.42 L501.5,405.36 L501.62,403.36 L501.74,402.26 L501.86,400.63 L501.98,399.16 L502.11,397.37 L502.23,396.8 L502.35,395.7 L502.47,394.6 L502.58,394.02 L502.7,393.17 L502.81,392.54 L502.92,392.21 L503.03,392.23 L503.13,392.16 L503.24,392.54 L503.34,393.07 L503.45,393.31 L503.56,393.68 L503.68,393.81 L503.8,393.64 L503.93,393.93 L504.07,393.94 L504.21,394.28 L504.36,394.19 L504.51,394.12 L504.65,394.5 L504.8,394.85 L504.94,394.47 L505.07,395.09 L505.2,394.66 L505.32,394.97 L505.42,395.01 L505.52,395.38 L505.62,395.55 L505.71,395.47 L505.8,395.31 L505.9,395.95 L505.99,395.96 L506.09,396.49 L506.2,397.79 L506.31,398.65 L506.42,399.95 L506.54,401.36 L506.66,403.16 L506.77,404.5 L506.9,406.56 L507.02,408.34 L507.14,410.37 L507.27,412.02 L507.4,414.16 L507.53,416.06 L507.66,418.01 L507.8,420.18 L507.93,422.77 L508.07,424.72 L508.21,427.65 L508.35,429.42 L508.5,431.59 L508.65,433.8 L508.8,436.4 L508.95,437.94 L509.11,439.73 L509.26,441.54 L509.42,443.4 L509.58,445.65 L509.75,447.32 L509.92,449 L510.1,450.56 L510.3,451.5 L510.5,453.16 L510.71,454.16 L510.93,455.52 L511.16,456.45 L511.4,457.33 L511.64,457.5 L511.9,458.72 L512.16,459.36 L512.43,459.93 L512.71,459.85 L513,460.39 L513.11,460.75 L512.93,461.02 L512.59,461.85 L512.22,462.03 L511.94,462.05 L511.89,462.3 L512.18,462.25 L512.94,462.08 L514.31,462.03 L516.4,462.12 L519.51,462.67 L523.67,462.36 L528.61,462.49 L534.08,462.6 L539.79,462.34 L545.5,462.51 L550.94,462.53 L555.85,462.81 L559.96,462.54 L563,462.47 L564.99,462.9 L566.21,462.58 L566.8,462.82 L566.9,462.66 L566.64,462.22 L566.16,462.43 L565.61,462.33 L565.13,462.39 L564.84,461.84 L564.9,461.74 L565.19,461.21 L565.52,460.55 L565.88,460.51 L566.26,459.43 L566.64,459.32 L567.04,458.18 L567.43,457.27 L567.8,456.53 L568.16,455.92 L568.5,454.93 L568.81,452.97 L569.11,451.88 L569.4,450.32 L569.68,448.87 L569.95,446.69 L570.22,445.09 L570.49,443.12 L570.75,441.58 L571.02,439.29 L571.3,437.91 L571.58,435.53 L571.87,433.43 L572.16,431.64 L572.45,429.33 L572.74,426.88 L573.02,425.12 L573.3,422.67 L573.58,421.24 L573.84,419.4 L574.1,417.9 L574.35,416.4 L574.59,414.93 L574.83,413.8 L575.07,412.74 L575.29,412.14 L575.51,410.73 L575.73,410.55 L575.93,409.29 L576.12,408.86 L576.3,408.43 L576.46,408.5 L576.6,407.93 L576.73,407.65 L576.84,407.91 L576.95,407.45 L577.06,407.71 L577.17,407.96 L577.3,408.43 L577.44,408.85 L577.6,409.3 L577.79,409.8 L577.99,410.71 L578.21,411.68 L578.43,413.37 L578.67,414.53 L578.91,415.89 L579.14,416.78 L579.37,418.2 L579.59,419.54 L579.8,420.36 L580,420.89 L580.19,421.96 L580.37,423.05 L580.55,423.35 L580.72,424.01 L580.9,424.7 L581.07,425.52 L581.25,426.04 L581.42,425.87 L581.6,426.06 L581.78,426.14 L581.96,426.04 L582.14,425.89 L582.32,425.23 L582.51,424.87 L582.69,424.26 L582.87,424.27 L583.05,423.59 L583.22,422.69 L583.4,422.92 L583.57,421.97 L583.74,421.78 L583.91,421.79 L584.08,421.26 L584.25,420.83 L584.42,420.29 L584.59,419.86 L584.76,419.99 L584.93,419.55 L585.1,419.69 L585.27,420 L585.45,419.99 L585.62,420.56 L585.8,421.23 L585.98,421.65 L586.15,422.09 L586.33,422.86 L586.52,423.54 L586.71,424.22 L586.9,425.57 L587.1,426.65 L587.3,428.33 L587.5,430.05 L587.71,431.45 L587.92,433.35 L588.14,435.31 L588.35,436.89 L588.57,438.51 L588.78,440.48 L589,442.07 L589.21,443.34 L589.41,444.6 L589.61,445.96 L589.81,447.04 L590.01,448.17 L590.22,449.14 L590.44,450.08 L590.68,451.29 L590.93,451.85 L591.2,452.94 L591.49,454 L591.78,454.67 L592.09,455.26 L592.4,455.59 L592.73,456.26 L593.08,456.78 L593.45,457.37 L593.84,457.67 L594.26,458.29 L594.7,458.9 L595.18,458.79 L595.7,459.51 L596.25,459.96 L596.83,460.02 L597.42,460.4 L598.02,461.02 L598.63,460.63 L599.23,461.22 L599.82,461.17 L600.4,461.8 L600.96,462.07 L601.52,461.91 L602.07,461.71 L602.62,462.12 L603.17,462.15 L603.72,462.31 L604.28,462.2 L604.84,462.32 L605.42,462.49 L606,462.32 L606.62,462.28 L607.3,462.7 L608.01,462.23 L608.73,462.59 L609.45,462.42 L610.14,462.7 L610.78,462.28 L611.35,462.9 L611.83,462.48 L612.2,462.29" fill="none" stroke="#1f9e80" stroke-width="1.2"/>
<path d="M451.6,463 v-2.2 M451.6,380.2 v2.2 M476,463 v-3.6 M476,380.2 v3.6 M500.4,463 v-2.2 M500.4,380.2 v2.2 M524.8,463 v-3.6 M524.8,380.2 v3.6 M549.2,463 v-2.2 M549.2,380.2 v2.2 M573.6,463 v-3.6 M573.6,380.2 v3.6 M598,463 v-2.2 M598,380.2 v2.2 M427.2,449.25 h2.2 M612.5,449.25 h-2.2 M427.2,435.5 h3.6 M612.5,435.5 h-3.6 M427.2,421.75 h2.2 M612.5,421.75 h-2.2 M427.2,408 h3.6 M612.5,408 h-3.6 M427.2,394.25 h2.2 M612.5,394.25 h-2.2" stroke="#111" stroke-width="1" fill="none"/>
<rect x="427.2" y="380.2" width="185.3" height="82.8" fill="none" stroke="#111" stroke-width="1.1"/>
<text x="424.2" y="466.8" font-size="10.6" text-anchor="end" font-weight="normal" fill="#111" font-style="normal"  stroke="#111" stroke-width="0.28">0.00</text>
<text x="424.2" y="439.3" font-size="10.6" text-anchor="end" font-weight="normal" fill="#111" font-style="normal"  stroke="#111" stroke-width="0.28">0.05</text>
<text x="424.2" y="411.8" font-size="10.6" text-anchor="end" font-weight="normal" fill="#111" font-style="normal"  stroke="#111" stroke-width="0.28">0.10</text>
<text x="424.2" y="384.3" font-size="10.6" text-anchor="end" font-weight="normal" fill="#111" font-style="normal"  stroke="#111" stroke-width="0.28">0.15</text>
<text x="427.2" y="476.6" font-size="10.6" text-anchor="middle" font-weight="normal" fill="#111" font-style="normal"  stroke="#111" stroke-width="0.28">500</text>
<text x="476" y="476.6" font-size="10.6" text-anchor="middle" font-weight="normal" fill="#111" font-style="normal"  stroke="#111" stroke-width="0.28">600</text>
<text x="524.8" y="476.6" font-size="10.6" text-anchor="middle" font-weight="normal" fill="#111" font-style="normal"  stroke="#111" stroke-width="0.28">700</text>
<text x="573.6" y="476.6" font-size="10.6" text-anchor="middle" font-weight="normal" fill="#111" font-style="normal"  stroke="#111" stroke-width="0.28">800</text>
<text x="431" y="448.3" font-size="10.2" fill="#111" stroke="#111" stroke-width="0.28"><tspan font-size="7.4" dy="-4.8">4</tspan><tspan font-style="italic" dy="4.8" dx="0.4">S</tspan><tspan font-size="8.4" dy="1.9">3/2</tspan></text>
<path d="M458,446 H465" stroke="#111" stroke-width="1.2"/><path d="M470.1,446 L464.5,443.4 L464.5,448.6 Z" fill="#111"/>
<text x="472" y="448.3" font-size="10.2" fill="#111" stroke="#111" stroke-width="0.28"><tspan font-size="7.4" dy="-4.8">4</tspan><tspan font-style="italic" dy="4.8" dx="0.4">I</tspan><tspan font-size="8.4" dy="1.9">15/2</tspan></text>
<text x="471.6" y="391.8" font-size="10.2" fill="#111" stroke="#111" stroke-width="0.28"><tspan font-size="7.4" dy="-4.8">4</tspan><tspan font-style="italic" dy="4.8" dx="0.4">F</tspan><tspan font-size="8.4" dy="1.9">9/2</tspan></text>
<path d="M498.8,388.8 H505.6" stroke="#111" stroke-width="1.2"/><path d="M510.7,388.8 L505.1,386.2 L505.1,391.4 Z" fill="#111"/>
<text x="512.9" y="391.8" font-size="10.2" fill="#111" stroke="#111" stroke-width="0.28"><tspan font-size="7.4" dy="-4.8">4</tspan><tspan font-style="italic" dy="4.8" dx="0.4">I</tspan><tspan font-size="8.4" dy="1.9">15/2</tspan></text>
<text x="543" y="405.6" font-size="10.2" fill="#111" stroke="#111" stroke-width="0.28"><tspan font-size="7.4" dy="-4.8">4</tspan><tspan font-style="italic" dy="4.8" dx="0.4">I</tspan><tspan font-size="8.4" dy="1.9">9/2</tspan></text>
<path d="M570,403 H577" stroke="#111" stroke-width="1.2"/><path d="M582.1,403 L576.5,400.4 L576.5,405.6 Z" fill="#111"/>
<text x="580.8" y="405.6" font-size="10.2" fill="#111" stroke="#111" stroke-width="0.28"><tspan font-size="7.4" dy="-4.8">4</tspan><tspan font-style="italic" dy="4.8" dx="0.4">I</tspan><tspan font-size="8.4" dy="1.9">15/2</tspan></text>
</svg></body></html>
